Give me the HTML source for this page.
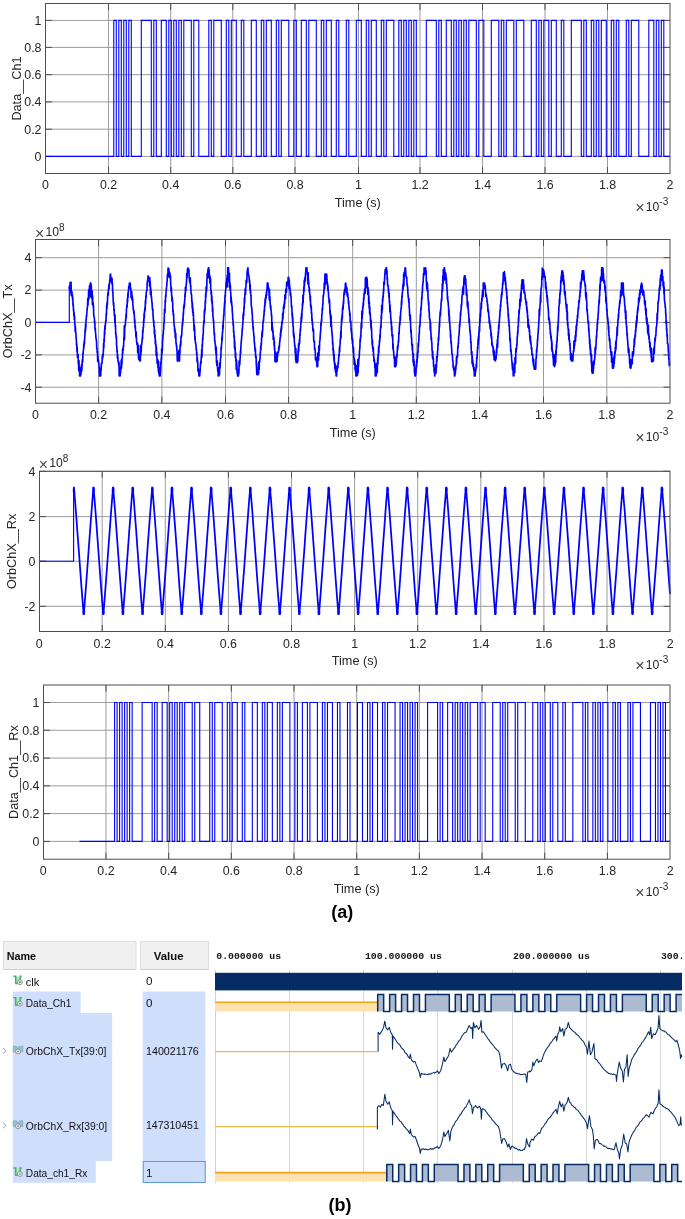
<!DOCTYPE html>
<html><head><meta charset="utf-8"><title>Figure</title>
<style>html,body{margin:0;padding:0;background:#fff}svg{display:block}</style>
</head><body>
<svg width="685" height="1219" viewBox="0 0 685 1219">
<rect width="685" height="1219" fill="#fff"/>
<path d="M108.5 3.5V173.5M170.7 3.5V173.5M232.8 3.5V173.5M295 3.5V173.5M358.5 3.5V173.5M420 3.5V173.5M482.5 3.5V173.5M545 3.5V173.5M607.5 3.5V173.5M45.5 20.4H670M45.5 47.4H670M45.5 74.7H670M45.5 101.9H670M45.5 129.2H670M45.5 156.4H670" stroke="#9c9c9c" stroke-width="1" fill="none"/>
<path d="M108.5 173.5v-6.5M108.5 3.5v6.5M170.7 173.5v-6.5M170.7 3.5v6.5M232.8 173.5v-6.5M232.8 3.5v6.5M295 173.5v-6.5M295 3.5v6.5M358.5 173.5v-6.5M358.5 3.5v6.5M420 173.5v-6.5M420 3.5v6.5M482.5 173.5v-6.5M482.5 3.5v6.5M545 173.5v-6.5M545 3.5v6.5M607.5 173.5v-6.5M607.5 3.5v6.5M45.5 20.4h6.5M670 20.4h-6.5M45.5 47.4h6.5M670 47.4h-6.5M45.5 74.7h6.5M670 74.7h-6.5M45.5 101.9h6.5M670 101.9h-6.5M45.5 129.2h6.5M670 129.2h-6.5M45.5 156.4h6.5M670 156.4h-6.5" stroke="#4f4f4f" stroke-width="1" fill="none"/>
<g font-family='"Liberation Sans", Arial, sans-serif' font-size="12.4" fill="#262626">
<text x="45.5" y="189.3" text-anchor="middle">0</text>
<text x="108.5" y="189.3" text-anchor="middle">0.2</text>
<text x="170.7" y="189.3" text-anchor="middle">0.4</text>
<text x="232.8" y="189.3" text-anchor="middle">0.6</text>
<text x="295" y="189.3" text-anchor="middle">0.8</text>
<text x="358.5" y="189.3" text-anchor="middle">1</text>
<text x="420" y="189.3" text-anchor="middle">1.2</text>
<text x="482.5" y="189.3" text-anchor="middle">1.4</text>
<text x="545" y="189.3" text-anchor="middle">1.6</text>
<text x="607.5" y="189.3" text-anchor="middle">1.8</text>
<text x="670" y="189.3" text-anchor="middle">2</text>
<text x="41.5" y="24.7" text-anchor="end">1</text>
<text x="41.5" y="51.7" text-anchor="end">0.8</text>
<text x="41.5" y="79" text-anchor="end">0.6</text>
<text x="41.5" y="106.2" text-anchor="end">0.4</text>
<text x="41.5" y="133.5" text-anchor="end">0.2</text>
<text x="41.5" y="160.7" text-anchor="end">0</text>
</g>
<g font-family='"Liberation Sans", Arial, sans-serif' font-size="12.7" fill="#262626">
<text x="357.75" y="207" text-anchor="middle">Time (s)</text>
<text transform="translate(20.6 88.5) rotate(-90)" text-anchor="middle">Data__Ch1</text>
</g>
<path d="M45.5 156.4H113.8V20.4H116.3V156.4H118.8V20.4H121.3V156.4H123.8V20.4H126.3V156.4H128.8V20.4H131.3V156.4H141.3V20.4H151.3V156.4H153.8V20.4H156.3V156.4H161.3V20.4H166.3V156.4H168.8V20.4H171.3V156.4H173.8V20.4H176.3V156.4H178.8V20.4H181.3V156.4H183.8V20.4H191.3V156.4H193.8V20.4H198.8V156.4H208.8V20.4H211.3V156.4H213.8V20.4H221.3V156.4H226.3V20.4H228.8V156.4H231.3V20.4H236.3V156.4H241.3V20.4H243.8V156.4H251.3V20.4H256.3V156.4H261.3V20.4H263.8V156.4H266.3V20.4H271.3V156.4H276.3V20.4H278.8V156.4H281.3V20.4H288.8V156.4H293.8V20.4H296.3V156.4H301.3V20.4H306.3V156.4H308.8V20.4H316.3V156.4H321.3V20.4H323.8V156.4H326.3V20.4H331.3V156.4H336.3V20.4H338.8V156.4H346.3V20.4H348.8V156.4H356.3V20.4H361.3V156.4H366.3V20.4H368.8V156.4H371.3V20.4H376.3V156.4H381.3V20.4H383.8V156.4H386.3V20.4H393.8V156.4H398.8V20.4H401.3V156.4H403.8V20.4H406.3V156.4H408.8V20.4H411.3V156.4H413.8V20.4H416.3V156.4H426.3V20.4H436.3V156.4H438.8V20.4H441.3V156.4H446.3V20.4H451.3V156.4H453.8V20.4H456.3V156.4H458.8V20.4H461.3V156.4H463.8V20.4H466.3V156.4H468.8V20.4H476.3V156.4H478.8V20.4H483.8V156.4H491.3V20.4H498.8V156.4H501.3V20.4H503.8V156.4H506.3V20.4H513.8V156.4H516.3V20.4H523.8V156.4H531.3V20.4H536.3V156.4H538.8V20.4H541.3V156.4H543.8V20.4H548.8V156.4H551.3V20.4H556.3V156.4H561.3V20.4H563.8V156.4H571.3V20.4H581.3V156.4H583.8V20.4H586.3V156.4H591.3V20.4H593.8V156.4H596.3V20.4H598.8V156.4H601.3V20.4H606.3V156.4H611.3V20.4H613.8V156.4H616.3V20.4H618.8V156.4H626.3V20.4H628.8V156.4H631.3V20.4H638.8V156.4H648.8V20.4H653.8V156.4H656.3V20.4H658.8V156.4H661.3V20.4H663.8V156.4H670" stroke="#0000ff" stroke-width="1.1" fill="none" stroke-linejoin="miter"/>
<rect x="45.5" y="3.5" width="624.5" height="170" fill="none" stroke="#4f4f4f" stroke-width="1"/>
<text x="635.2" y="210.5" font-family='"Liberation Sans", Arial, sans-serif' font-size="12.2" fill="#262626"><tspan font-size="16" dy="2.3" fill="#4a4a4a">×</tspan><tspan dx="1.2" dy="-2.3">10</tspan><tspan dy="-5.8" font-size="10">-3</tspan></text>
<path d="M98.6 239.5V403.2M161.9 239.5V403.2M225.5 239.5V403.2M288.6 239.5V403.2M352.7 239.5V403.2M416.3 239.5V403.2M479.5 239.5V403.2M543.5 239.5V403.2M606.8 239.5V403.2M35.5 257.7H670M35.5 290.1H670M35.5 322.4H670M35.5 354.9H670M35.5 387.2H670" stroke="#9c9c9c" stroke-width="1" fill="none"/>
<path d="M98.6 403.2v-6.5M98.6 239.5v6.5M161.9 403.2v-6.5M161.9 239.5v6.5M225.5 403.2v-6.5M225.5 239.5v6.5M288.6 403.2v-6.5M288.6 239.5v6.5M352.7 403.2v-6.5M352.7 239.5v6.5M416.3 403.2v-6.5M416.3 239.5v6.5M479.5 403.2v-6.5M479.5 239.5v6.5M543.5 403.2v-6.5M543.5 239.5v6.5M606.8 403.2v-6.5M606.8 239.5v6.5M35.5 257.7h6.5M670 257.7h-6.5M35.5 290.1h6.5M670 290.1h-6.5M35.5 322.4h6.5M670 322.4h-6.5M35.5 354.9h6.5M670 354.9h-6.5M35.5 387.2h6.5M670 387.2h-6.5" stroke="#4f4f4f" stroke-width="1" fill="none"/>
<g font-family='"Liberation Sans", Arial, sans-serif' font-size="12.4" fill="#262626">
<text x="35.5" y="419" text-anchor="middle">0</text>
<text x="98.6" y="419" text-anchor="middle">0.2</text>
<text x="161.9" y="419" text-anchor="middle">0.4</text>
<text x="225.5" y="419" text-anchor="middle">0.6</text>
<text x="288.6" y="419" text-anchor="middle">0.8</text>
<text x="352.7" y="419" text-anchor="middle">1</text>
<text x="416.3" y="419" text-anchor="middle">1.2</text>
<text x="479.5" y="419" text-anchor="middle">1.4</text>
<text x="543.5" y="419" text-anchor="middle">1.6</text>
<text x="606.8" y="419" text-anchor="middle">1.8</text>
<text x="670" y="419" text-anchor="middle">2</text>
<text x="31.5" y="262" text-anchor="end">4</text>
<text x="31.5" y="294.4" text-anchor="end">2</text>
<text x="31.5" y="326.7" text-anchor="end">0</text>
<text x="31.5" y="359.2" text-anchor="end">-2</text>
<text x="31.5" y="391.5" text-anchor="end">-4</text>
</g>
<g font-family='"Liberation Sans", Arial, sans-serif' font-size="12.7" fill="#262626">
<text x="352.75" y="436.5" text-anchor="middle">Time (s)</text>
<text transform="translate(12.3 321.35) rotate(-90)" text-anchor="middle">OrbChX__Tx</text>
</g>
<path d="M35.5 322.4H69.3V285.14" stroke="#0000ff" stroke-width="1.15" fill="none"/>
<path d="M69.3 286.76L69.5 288.95L69.72 286.27L69.94 289.09L70.16 282.22L70.38 282.22L70.6 282.22L70.82 293.01L71.04 282.35L71.26 295.5L71.48 293.05L71.7 292.86L71.92 291.65L72.14 296.55L72.36 294.46L72.58 300.08L72.8 297.14L73.02 306.01L73.24 303.91L73.46 310.61L73.68 309.82L73.9 315.82L74.12 312.74L74.34 319.37L74.56 316.11L74.78 324.59L75 324.26L75.22 331.63L75.44 326.93L75.66 332.45L75.88 332.66L76.1 338.68L76.32 339.1L76.54 345.99L76.76 343.88L76.98 351.61L77.2 347.39L77.42 357.12L77.64 356.68L77.86 355.89L78.08 354.61L78.3 363.9L78.52 360.42L78.74 370.57L78.96 360.62L79.18 371.52L79.4 365.99L79.62 375.86L79.84 371.87L80.06 375.86L80.28 371.13L80.5 375.86L80.72 372.13L80.94 374.62L81.16 367.23L81.38 371.97L81.6 364.5L81.82 370.44L82.04 365.65L82.26 361.05L82.48 359.43L82.7 362.1L82.92 352.99L83.14 354.12L83.36 350.03L83.58 349.76L83.8 343.96L84.02 347.09L84.24 340.67L84.46 344.16L84.68 338.04L84.9 335.35L85.12 329.06L85.34 331.82L85.56 324.3L85.78 328.62L86 319.65L86.22 319.97L86.44 315.36L86.66 316.29L86.88 311.36L87.1 310.47L87.32 307.02L87.54 306.61L87.76 298.62L87.98 305.28L88.2 299.13L88.42 298.48L88.64 290.39L88.86 299.17L89.08 289.13L89.3 293.52L89.52 285.83L89.74 286.77L89.96 288.44L90.18 284.71L90.4 283.03L90.62 296.88L90.84 283.03L91.06 285.96L91.28 285.34L91.5 293.07L91.72 293.89L91.94 298.75L92.16 291.01L92.38 304.59L92.6 295.8L92.82 303.85L93.04 302.17L93.26 307.13L93.48 305.06L93.7 314.89L93.92 315.81L94.14 317.13L94.36 317.85L94.58 323.34L94.8 321.18L95.02 329.68L95.24 327.97L95.46 332.68L95.68 333.24L95.9 337.67L96.12 338.46L96.34 339.75L96.56 342.9L96.78 348.7L97 348.23L97.22 353.11L97.44 351.48L97.66 361.17L97.88 355.87L98.1 361.96L98.32 359.65L98.54 360.97L98.76 363L98.98 365.8L99.2 367.97L99.42 375.86L99.64 370.55L99.86 375.86L100.08 373.81L100.3 374.99L100.52 373.03L100.74 375.86L100.96 367.07L101.18 370.52L101.4 363.24L101.62 364.19L101.84 363.27L102.06 362.26L102.28 356.21L102.5 358.92L102.72 354.48L102.94 356.91L103.16 354.35L103.38 351.13L103.6 343.83L103.82 348.08L104.04 338.75L104.26 341.73L104.48 330.56L104.7 335.02L104.92 325.91L105.14 329.33L105.36 324.05L105.58 323.46L105.8 319.97L106.02 321.13L106.24 313.28L106.46 314.63L106.68 305.03L106.9 309.05L107.12 302.34L107.34 304.94L107.56 298.51L107.78 293.79L108 292.74L108.22 295.26L108.44 289.26L108.66 288.98L108.88 285.18L109.1 289.02L109.32 283.61L109.54 284.45L109.76 280.03L109.98 279.65L110.2 274.82L110.42 280.08L110.64 274.12L110.86 281.1L111.08 279.76L111.3 278.74L111.52 279.8L111.74 283.24L111.96 278L112.18 282.23L112.4 283.32L112.62 290.9L112.84 291.46L113.06 296.41L113.28 301.9L113.5 305.51L113.72 302.73L113.94 311.02L114.16 309.24L114.38 315.77L114.6 314.77L114.82 322.7L115.04 314.71L115.26 326.55L115.48 325.36L115.7 334.23L115.92 333.36L116.14 337.94L116.36 336.06L116.58 345.31L116.8 347.11L117.02 351.81L117.24 350.58L117.46 358.42L117.68 355.15L117.9 358.1L118.12 361.85L118.34 361.83L118.56 363.53L118.78 365.73L119 362.33L119.22 375.86L119.44 373.51L119.66 370.39L119.88 372.89L120.1 375.86L120.32 371.58L120.54 373.04L120.76 366.47L120.98 368.66L121.2 360.21L121.42 368.6L121.64 359.02L121.86 365L122.08 358.75L122.3 358.71L122.52 349.68L122.74 353.67L122.96 348.05L123.18 350.48L123.4 345.53L123.62 346.49L123.84 338.12L124.06 338.61L124.28 326.12L124.5 339.58L124.72 328.62L124.94 326.85L125.16 325.05L125.38 324.73L125.6 319.48L125.82 320.55L126.04 314.29L126.26 318.02L126.48 308.56L126.7 307.82L126.92 304.82L127.14 307.21L127.36 298.76L127.58 302.34L127.8 293.86L128.02 297.48L128.24 291.53L128.46 291.57L128.68 287.36L128.9 286.27L129.12 287.9L129.34 283.39L129.56 283.03L129.78 283.03L130 283.12L130.22 283.03L130.44 287.98L130.66 289.6L130.88 288.61L131.1 297.7L131.32 291.7L131.54 295.84L131.76 291.54L131.98 300.02L132.2 295.83L132.42 300.42L132.64 298.6L132.86 305.3L133.08 306.02L133.3 309.96L133.52 309.81L133.74 313.3L133.96 310.7L134.18 313.42L134.4 317.55L134.62 322.38L134.84 319.81L135.06 328.2L135.28 325.84L135.5 330.51L135.72 332.26L135.94 337.04L136.16 332.1L136.38 337.84L136.6 341.49L136.82 343.1L137.04 344.56L137.26 343.12L137.48 342.84L137.7 352.82L137.92 347.72L138.14 349.79L138.36 345.37L138.58 358.23L138.8 359.6L139.02 359.08L139.24 356.55L139.46 356.14L139.68 357.18L139.9 360.96L140.12 356.76L140.34 360.96L140.56 346.18L140.78 355.4L141 349.92L141.22 352.24L141.44 343.97L141.66 344.83L141.88 342.26L142.1 341.28L142.32 337.05L142.54 338.99L142.76 330.14L142.98 332.58L143.2 327.29L143.42 328.06L143.64 319.92L143.86 322.65L144.08 313.49L144.3 318.38L144.52 310.97L144.74 311.62L144.96 307.38L145.18 310.2L145.4 300.62L145.62 304.15L145.84 296.21L146.06 297.9L146.28 292.15L146.5 291.54L146.72 290.55L146.94 290.72L147.16 282.71L147.38 282.2L147.6 279.79L147.82 280.36L148.04 275.84L148.26 276.86L148.48 277.81L148.7 278.34L148.92 278.84L149.14 281.74L149.36 280.61L149.58 286.13L149.8 277.49L150.02 287.07L150.24 281.5L150.46 294.61L150.68 287.73L150.9 291.92L151.12 291.55L151.34 297.98L151.56 296.87L151.78 301.61L152 301.78L152.22 306.09L152.44 309.25L152.66 310.25L152.88 309.16L153.1 316.16L153.32 318.69L153.54 322.12L153.76 320.54L153.98 327.24L154.2 326.35L154.42 334.45L154.64 329.96L154.86 337.63L155.08 334.99L155.3 343.71L155.52 340.17L155.74 346.18L155.96 344.72L156.18 355.41L156.4 347.27L156.62 354.39L156.84 352.41L157.06 362.99L157.28 358.75L157.5 364.19L157.72 359.83L157.94 367.47L158.16 362.19L158.38 371.79L158.6 361.66L158.82 373.51L159.04 368.45L159.26 375.86L159.48 371.09L159.7 367.84L159.92 375.86L160.14 375.86L160.36 370.14L160.58 370.39L160.8 362.64L161.02 364.23L161.24 357.99L161.46 359.45L161.68 348.72L161.9 354.15L162.12 350.91L162.34 349.27L162.56 340.11L162.78 339.94L163 334.38L163.22 334.79L163.44 330.42L163.66 329.78L163.88 322.98L164.1 323.12L164.32 316.54L164.54 309.13L164.76 309.74L164.98 312.44L165.2 300.22L165.42 302.6L165.64 295.74L165.86 297.02L166.08 291.4L166.3 290.81L166.52 287.03L166.74 286.41L166.96 281.51L167.18 281.05L167.4 274.5L167.62 275.83L167.84 277.04L168.06 267.97L168.28 267.97L168.5 271.34L168.72 268.77L168.94 269.18L169.16 273.23L169.38 277.22L169.6 274.64L169.82 272.74L170.04 275.26L170.26 278.85L170.48 275.89L170.7 283.57L170.92 287.14L171.14 291.55L171.36 287.57L171.58 294.85L171.8 295.99L172.02 301.16L172.24 297.65L172.46 300.57L172.68 303.48L172.9 312L173.12 310.51L173.34 315.56L173.56 313.48L173.78 319.7L174 324.11L174.22 325.62L174.44 326.56L174.66 331.82L174.88 328.94L175.1 331.9L175.32 337.93L175.54 338.16L175.76 333.41L175.98 343.24L176.2 343.05L176.42 346.47L176.64 345.51L176.86 350.5L177.08 351.31L177.3 360.96L177.52 353.32L177.74 360.96L177.96 356.18L178.18 360.96L178.4 355.54L178.62 355.08L178.84 350.44L179.06 360.96L179.28 353.85L179.5 360.96L179.72 351.18L179.94 353.84L180.16 344.79L180.38 346.96L180.6 341.71L180.82 344.89L181.04 336.1L181.26 337.14L181.48 336.39L181.7 335.21L181.92 330L182.14 327.55L182.36 323.27L182.58 325.24L182.8 318.91L183.02 320.91L183.24 312.99L183.46 314.54L183.68 306.7L183.9 308.98L184.12 304L184.34 306.91L184.56 300.92L184.78 300.04L185 293.49L185.22 296.66L185.44 287.1L185.66 290.88L185.88 290.81L186.1 286.43L186.32 283.58L186.54 281.54L186.76 273.51L186.98 278.28L187.2 275.03L187.42 269.57L187.64 268.32L187.86 267.97L188.08 267.97L188.3 270.59L188.52 271.44L188.74 272.84L188.96 269.58L189.18 277.87L189.4 278.84L189.62 281.9L189.84 277.95L190.06 283.13L190.28 277.74L190.5 286.52L190.72 285.22L190.94 291.23L191.16 293.53L191.38 294.56L191.6 295.08L191.82 302.05L192.04 300.73L192.26 308.25L192.48 303.57L192.7 312.79L192.92 308.44L193.14 315.41L193.36 312.69L193.58 321.04L193.8 319.78L194.02 330.82L194.24 324.76L194.46 327.51L194.68 330.61L194.9 339.4L195.12 336.45L195.34 342.8L195.56 342.53L195.78 343.76L196 345.17L196.22 349.92L196.44 349.19L196.66 354.67L196.88 352.6L197.1 361.92L197.32 357.78L197.54 361.28L197.76 361.77L197.98 371.2L198.2 368.49L198.42 371.82L198.64 370.41L198.86 375.95L199.08 372.16L199.3 375.39L199.52 376.02L199.74 376.02L199.96 369.2L200.18 371.63L200.4 363.91L200.62 363.19L200.84 361.33L201.06 363.4L201.28 356.44L201.5 357.02L201.72 349.48L201.94 357.28L202.16 344.72L202.38 346.36L202.6 338.53L202.82 340.06L203.04 334.63L203.26 334.33L203.48 325.29L203.7 325.41L203.92 320.63L204.14 322.97L204.36 310.2L204.58 313.66L204.8 308.96L205.02 310.83L205.24 301.05L205.46 303.67L205.68 293.59L205.9 297.05L206.12 286.94L206.34 292.17L206.56 290.53L206.78 287.18L207 278.45L207.22 273.24L207.44 278.12L207.66 276.82L207.88 269.92L208.1 274.52L208.32 267.81L208.54 271.98L208.76 267.81L208.98 277.39L209.2 270.37L209.42 278.45L209.64 275.66L209.86 282.92L210.08 276.34L210.3 283.28L210.52 278.59L210.74 289.59L210.96 290.48L211.18 294.77L211.4 291.52L211.62 301.02L211.84 295.97L212.06 303.99L212.28 301.34L212.5 311.61L212.72 307.54L212.94 317.03L213.16 316.77L213.38 321.14L213.6 320.72L213.82 326.84L214.04 330.05L214.26 335.13L214.48 333.37L214.7 341.14L214.92 340.51L215.14 343.97L215.36 344.22L215.58 350.38L215.8 350.08L216.02 354.2L216.24 347.12L216.46 362.67L216.68 361.33L216.9 365.73L217.12 360.55L217.34 361.71L217.56 367.2L217.78 371.48L218 370.84L218.22 376.02L218.44 376.02L218.66 376.02L218.88 376.02L219.1 367.82L219.32 367.75L219.54 374.66L219.76 362.78L219.98 368.28L220.2 365.65L220.42 359.49L220.64 358.01L220.86 356.8L221.08 347.41L221.3 349.67L221.52 344.35L221.74 343.02L221.96 336.94L222.18 340.24L222.4 332.21L222.62 332.62L222.84 325.22L223.06 329.09L223.28 320.91L223.5 320.09L223.72 314.3L223.94 315.87L224.16 308.63L224.38 306.46L224.6 302.31L224.82 303.25L225.04 295.35L225.26 296.91L225.48 290.71L225.7 290.12L225.92 286.87L226.14 283.28L226.36 282.12L226.58 285.14L226.8 278.36L227.02 278.75L227.24 275.3L227.46 286.96L227.68 267.81L227.9 279.67L228.12 267.81L228.34 276.99L228.56 267.81L228.78 274.96L229 273.98L229.22 282.23L229.44 272.99L229.66 287.52L229.88 282.34L230.1 290.27L230.32 285.25L230.54 291.91L230.76 293.04L230.98 302.53L231.2 297L231.42 304.15L231.64 301.25L231.86 305.74L232.08 306.54L232.3 312.41L232.52 313.34L232.74 319.39L232.96 319.47L233.18 325.67L233.4 324.33L233.62 332.58L233.84 331.79L234.06 337.77L234.28 335.77L234.5 347.61L234.72 341.17L234.94 350.03L235.16 347.22L235.38 357.56L235.6 352.55L235.82 360.57L236.04 358.69L236.26 369.4L236.48 360.05L236.7 364.48L236.92 366.78L237.14 373.5L237.36 370.43L237.58 376.02L237.8 375.55L238.02 376.02L238.24 369.76L238.46 376.02L238.68 369.65L238.9 373.6L239.12 361.07L239.34 366.3L239.56 362.45L239.78 364.41L240 359.78L240.22 356.73L240.44 350.91L240.66 353.64L240.88 346.95L241.1 344.06L241.32 341.13L241.54 339.07L241.76 335.41L241.98 334.89L242.2 328.94L242.42 329.17L242.64 324.41L242.86 324.06L243.08 314.41L243.3 319.28L243.52 312.37L243.74 315.58L243.96 306.8L244.18 308.94L244.4 297.92L244.62 303.22L244.84 296L245.06 293.75L245.28 288.66L245.5 294.56L245.72 287.86L245.94 287.04L246.16 280.17L246.38 283.43L246.6 280.94L246.82 282.27L247.04 273.43L247.26 271.64L247.48 269.4L247.7 273.1L247.92 267.81L248.14 271.41L248.36 273.51L248.58 275.24L248.8 275.57L249.02 276.63L249.24 279.37L249.46 282.64L249.68 280.16L249.9 289.46L250.12 284.25L250.34 292.19L250.56 290.74L250.78 295.81L251 295.05L251.22 304.26L251.44 306.76L251.66 307.38L251.88 309.1L252.1 313.43L252.32 314.09L252.54 322.06L252.76 320.56L252.98 328.81L253.2 326.56L253.42 331.06L253.64 332.4L253.86 336.1L254.08 336.1L254.3 342.42L254.52 342.75L254.74 346.6L254.96 348.42L255.18 351.54L255.4 348.36L255.62 357.35L255.84 356.89L256.06 356.08L256.28 364.39L256.5 367.21L256.72 372.45L256.94 374.73L257.16 371.76L257.38 374.25L257.6 369.95L257.82 374.73L258.04 374.71L258.26 369.68L258.48 362.86L258.7 373.65L258.92 361.4L259.14 369.49L259.36 362.38L259.58 362.2L259.8 359.68L260.02 359.3L260.24 352.84L260.46 353.04L260.68 346.45L260.9 350.03L261.12 343.51L261.34 345.19L261.56 338.26L261.78 338.12L262 332.19L262.22 336.78L262.44 330.78L262.66 331.33L262.88 323.9L263.1 322.93L263.32 319.93L263.54 320.9L263.76 315.29L263.98 316.18L264.2 310.22L264.42 311.68L264.64 305.49L264.86 306.51L265.08 299.4L265.3 303.91L265.52 297.54L265.74 299.34L265.96 294.76L266.18 297.65L266.4 291.76L266.62 295.49L266.84 289.74L267.06 288.72L267.28 283.03L267.5 286.7L267.72 283.03L267.94 283.03L268.16 285.89L268.38 290.55L268.6 288.9L268.82 288.02L269.04 289.21L269.26 299.45L269.48 289.56L269.7 300.68L269.92 296.63L270.14 303.13L270.36 305.66L270.58 308.47L270.8 305.93L271.02 310.1L271.24 310.98L271.46 315.96L271.68 315.21L271.9 330.3L272.12 322.5L272.34 328.68L272.56 327.44L272.78 332.89L273 330.45L273.22 339.36L273.44 335.22L273.66 339.23L273.88 337.52L274.1 345.8L274.32 341.29L274.54 349.86L274.76 348.45L274.98 361.77L275.2 354.01L275.42 357.16L275.64 352.11L275.86 357.82L276.08 361.77L276.3 358.85L276.52 357.52L276.74 361.77L276.96 353.6L277.18 361.05L277.4 355.13L277.62 356.14L277.84 352.39L278.06 352.03L278.28 351.25L278.5 352.12L278.72 347.58L278.94 350.3L279.16 345.51L279.38 347.5L279.6 341.93L279.82 342.1L280.04 338.14L280.26 338.45L280.48 332.91L280.7 336.58L280.92 329.05L281.14 332.19L281.36 326.45L281.58 329.27L281.8 322.18L282.02 324.16L282.24 321.13L282.46 320.73L282.68 313.44L282.9 318.86L283.12 312.9L283.34 313.52L283.56 306.35L283.78 308.75L284 304.29L284.22 308.08L284.44 301.4L284.66 303.67L284.88 294.81L285.1 298.37L285.32 295.27L285.54 298.83L285.76 289.79L285.98 290.29L286.2 288.7L286.42 292.26L286.64 282.37L286.86 286.41L287.08 285.42L287.3 285.05L287.52 283.61L287.74 281.63L287.96 284.02L288.18 277.36L288.4 277.36L288.62 277.36L288.84 281.27L289.06 288.43L289.28 279.84L289.5 289.57L289.72 285.77L289.94 288.94L290.16 291.31L290.38 295.55L290.6 292.47L290.82 296.15L291.04 296.37L291.26 302.71L291.48 307.4L291.7 305.91L291.92 309.42L292.14 316.8L292.36 313L292.58 321.88L292.8 317.33L293.02 326.75L293.24 326.21L293.46 335.22L293.68 331.76L293.9 337.63L294.12 335.27L294.34 341.38L294.56 343.67L294.78 346.51L295 345.41L295.22 353.3L295.44 349.27L295.66 360.48L295.88 348.54L296.1 362.58L296.32 360.78L296.54 360.36L296.76 362.01L296.98 359.07L297.2 354.63L297.42 362.58L297.64 354.73L297.86 361.18L298.08 350.69L298.3 353.39L298.52 343.93L298.74 351.1L298.96 344.1L299.18 344.85L299.4 339.63L299.62 343.5L299.84 334.57L300.06 335.39L300.28 329.18L300.5 330.96L300.72 325.59L300.94 322.95L301.16 317.21L301.38 321.72L301.6 313.39L301.82 318.33L302.04 310.46L302.26 309.89L302.48 302.98L302.7 306.03L302.92 295.36L303.14 302.92L303.36 295.88L303.58 294.87L303.8 287.02L304.02 291.72L304.24 280.6L304.46 286.02L304.68 278.77L304.9 280.13L305.12 276.73L305.34 281.13L305.56 273.52L305.78 271.08L306 267.81L306.22 271.39L306.44 269.08L306.66 267.81L306.88 267.81L307.1 272.2L307.32 272.02L307.54 275.38L307.76 275.27L307.98 284.07L308.2 272.77L308.42 284.55L308.64 281L308.86 287.28L309.08 286.48L309.3 292.03L309.52 288.54L309.74 295.09L309.96 294.71L310.18 300.77L310.4 296.42L310.62 306.54L310.84 304.54L311.06 309.18L311.28 306.57L311.5 314.16L311.72 313.14L311.94 320.97L312.16 319.01L312.38 324.36L312.6 323.01L312.82 328.96L313.04 331.14L313.26 328.85L313.48 329.62L313.7 340.1L313.92 340.65L314.14 342.74L314.36 341.27L314.58 349.41L314.8 347.98L315.02 349.23L315.24 349.87L315.46 359.45L315.68 356.41L315.9 357.34L316.12 360.92L316.34 360.08L316.56 358.09L316.78 363.73L317 366.63L317.22 366.63L317.44 362.32L317.66 366.63L317.88 352.72L318.1 356.43L318.32 354.71L318.54 360.17L318.76 345.91L318.98 355.62L319.2 346.17L319.42 350.49L319.64 341.43L319.86 340.96L320.08 338.51L320.3 334.58L320.52 331.67L320.74 330.61L320.96 323.08L321.18 325.53L321.4 319.91L321.62 321.31L321.84 314.7L322.06 313.8L322.28 308.27L322.5 309.95L322.72 303.91L322.94 304.21L323.16 295.45L323.38 296.7L323.6 293.95L323.82 293.31L324.04 290.17L324.26 282.92L324.48 283.77L324.7 288.45L324.92 274.12L325.14 284.59L325.36 274.12L325.58 279.12L325.8 275.25L326.02 278.17L326.24 274.64L326.46 283.24L326.68 274.12L326.9 278.12L327.12 281.59L327.34 285.13L327.56 283.01L327.78 289.69L328 286.03L328.22 292.22L328.44 292.1L328.66 297.77L328.88 297.62L329.1 303.02L329.32 299.51L329.54 300.22L329.76 306.85L329.98 314.08L330.2 310.97L330.42 318.08L330.64 316.61L330.86 326.5L331.08 315.37L331.3 324.21L331.52 325.64L331.74 331.42L331.96 331.56L332.18 335.18L332.4 337.38L332.62 344.14L332.84 342.58L333.06 350.66L333.28 348.33L333.5 355.72L333.72 351.29L333.94 360.47L334.16 355.03L334.38 362.93L334.6 362.76L334.82 368.62L335.04 363.22L335.26 367.73L335.48 370.6L335.7 372.34L335.92 365.47L336.14 376.02L336.36 375.44L336.58 376.02L336.8 367.67L337.02 371.57L337.24 368.67L337.46 368.28L337.68 368.23L337.9 367.32L338.12 362.66L338.34 364.02L338.56 359.98L338.78 356.72L339 354.46L339.22 355.81L339.44 347.47L339.66 351.64L339.88 345.18L340.1 344.39L340.32 338.85L340.54 338.99L340.76 331.66L340.98 338.2L341.2 326.1L341.42 325.42L341.64 318.52L341.86 321.96L342.08 314.93L342.3 318.92L342.52 308.21L342.74 310.59L342.96 305.42L343.18 308.69L343.4 301.09L343.62 303.62L343.84 294.77L344.06 293.15L344.28 291.18L344.5 294.58L344.72 289.29L344.94 290.03L345.16 289.09L345.38 283.43L345.6 283.03L345.82 283.22L346.04 286.59L346.26 287.59L346.48 292.62L346.7 291.1L346.92 287.77L347.14 296.03L347.36 293.36L347.58 292.88L347.8 294.88L348.02 297.51L348.24 298.42L348.46 303.96L348.68 300.84L348.9 306.48L349.12 308.08L349.34 310.54L349.56 310.55L349.78 315.97L350 313.37L350.22 322.25L350.44 320.77L350.66 321.07L350.88 321.91L351.1 330.57L351.32 328.73L351.54 334.01L351.76 333.36L351.98 339.79L352.2 337.89L352.42 343.56L352.64 339.46L352.86 346.87L353.08 346.82L353.3 352.43L353.52 347.45L353.74 357.36L353.96 357.26L354.18 364.49L354.4 358.63L354.62 363.37L354.84 360.8L355.06 369.63L355.28 363.8L355.5 372.02L355.72 369.08L355.94 376.02L356.16 372.93L356.38 373.11L356.6 365.93L356.82 376.02L357.04 368.51L357.26 375.22L357.48 375.34L357.7 367.68L357.92 359.49L358.14 372.76L358.36 362.08L358.58 366.14L358.8 358.93L359.02 358.45L359.24 356.34L359.46 351.7L359.68 349.7L359.9 347.02L360.12 339.39L360.34 341.39L360.56 336.12L360.78 337.6L361 331.18L361.22 323.56L361.44 323.69L361.66 328.06L361.88 311.17L362.1 319.04L362.32 312.88L362.54 314.27L362.76 306.71L362.98 308.46L363.2 302.75L363.42 305.66L363.64 297.59L363.86 299.92L364.08 293.43L364.3 294.89L364.52 292.05L364.74 288.75L364.96 291.8L365.18 293.22L365.4 278.01L365.62 279.54L365.84 286.09L366.06 287.71L366.28 277.36L366.5 279.12L366.72 277.36L366.94 285.31L367.16 278.82L367.38 284.7L367.6 290.02L367.82 294.39L368.04 287.48L368.26 295.22L368.48 290.41L368.7 303.41L368.92 296.17L369.14 308.1L369.36 302.13L369.58 313.31L369.8 307.21L370.02 315.33L370.24 313.15L370.46 320.69L370.68 318.62L370.9 327.59L371.12 320.51L371.34 329.97L371.56 327.94L371.78 336.92L372 338.48L372.22 345.38L372.44 340.64L372.66 348.76L372.88 346.99L373.1 351.44L373.32 347.3L373.54 356.23L373.76 356.28L373.98 361.53L374.2 359.11L374.42 360.15L374.64 363.14L374.86 367.79L375.08 365.96L375.3 376.02L375.52 363.97L375.74 374.55L375.96 372.93L376.18 376.02L376.4 372.56L376.62 371.98L376.84 367.89L377.06 362.96L377.28 372.57L377.5 364.2L377.72 357.59L377.94 364.15L378.16 354.36L378.38 356.72L378.6 346.73L378.82 352.99L379.04 345.27L379.26 345.65L379.48 340.35L379.7 342.07L379.92 335L380.14 337.96L380.36 329.83L380.58 328.6L380.8 325.03L381.02 327.7L381.24 315.47L381.46 318.97L381.68 305.27L381.9 312.94L382.12 310.14L382.34 309.44L382.56 298.72L382.78 301.65L383 296L383.22 297.34L383.44 290.11L383.66 291.88L383.88 282.04L384.1 284.65L384.32 284.42L384.54 279.46L384.76 275.91L384.98 272.81L385.2 269.46L385.42 273.85L385.64 271.24L385.86 273.7L386.08 267.81L386.3 267.81L386.52 267.81L386.74 273.68L386.96 270.46L387.18 279.61L387.4 278.14L387.62 285.79L387.84 285.03L388.06 285.57L388.28 287.08L388.5 293.05L388.72 289.22L388.94 297.67L389.16 293.36L389.38 302.92L389.6 300.81L389.82 311.46L390.04 305.08L390.26 313.3L390.48 310.98L390.7 318.18L390.92 318.04L391.14 323.88L391.36 321.73L391.58 330.43L391.8 326.58L392.02 335.45L392.24 335.77L392.46 338.07L392.68 334.59L392.9 348.84L393.12 343.91L393.34 350.62L393.56 350.61L393.78 353.72L394 356.62L394.22 358.9L394.44 358.52L394.66 366.63L394.88 356.97L395.1 362.89L395.32 360.99L395.54 366.63L395.76 357.85L395.98 365.96L396.2 364.01L396.42 362.09L396.64 355.31L396.86 357.29L397.08 356.12L397.3 350.21L397.52 346.08L397.74 349.52L397.96 345.77L398.18 345.43L398.4 340.5L398.62 341.9L398.84 332.61L399.06 334.34L399.28 329.03L399.5 325.2L399.72 322.9L399.94 324.68L400.16 316.59L400.38 320.31L400.6 312.27L400.82 311.56L401.04 308.72L401.26 307.8L401.48 300.93L401.7 304.41L401.92 295.81L402.14 297.24L402.36 292.3L402.58 291.27L402.8 286L403.02 289.76L403.24 282.83L403.46 284.82L403.68 274.25L403.9 285.92L404.12 272.43L404.34 273.48L404.56 275.92L404.78 273.92L405 268.07L405.22 269.44L405.44 267.81L405.66 271.19L405.88 273.97L406.1 276.52L406.32 277.07L406.54 278.61L406.76 277L406.98 284.14L407.2 284.06L407.42 286.9L407.64 286.86L407.86 292.54L408.08 294.92L408.3 298.15L408.52 298.02L408.74 302.47L408.96 298.61L409.18 307.61L409.4 308.14L409.62 316.01L409.84 315.65L410.06 320.09L410.28 314.82L410.5 322.23L410.72 327.89L410.94 332.8L411.16 330.15L411.38 337.66L411.6 337.51L411.82 345.5L412.04 343.92L412.26 349.82L412.48 344.48L412.7 354.12L412.92 353.34L413.14 362.16L413.36 353.38L413.58 365.2L413.8 359.68L414.02 365.91L414.24 361.37L414.46 372.98L414.68 370L414.9 376.02L415.12 374.62L415.34 376.02L415.56 368.65L415.78 374.54L416 371.65L416.22 366.38L416.44 364.8L416.66 366.86L416.88 359.55L417.1 362.73L417.32 353.43L417.54 358.06L417.76 351.3L417.98 352.79L418.2 343.59L418.42 347.08L418.64 341.97L418.86 340.6L419.08 333.83L419.3 334.42L419.52 325.72L419.74 326.08L419.96 326.31L420.18 321.27L420.4 314.55L420.62 316.35L420.84 308.55L421.06 309.33L421.28 306.21L421.5 303.69L421.72 297.17L421.94 299.12L422.16 291.56L422.38 292.81L422.6 285.42L422.82 284.74L423.04 281.3L423.26 281.53L423.48 273.55L423.7 275.63L423.92 275.67L424.14 267.81L424.36 269.92L424.58 273.8L424.8 268.69L425.02 270.61L425.24 269.88L425.46 269.4L425.68 267.81L425.9 273.46L426.12 271.15L426.34 281.05L426.56 283.63L426.78 288.92L427 281.81L427.22 291.07L427.44 283.57L427.66 290.97L427.88 290.13L428.1 298.93L428.32 299.28L428.54 304.78L428.76 302.06L428.98 310.87L429.2 310.89L429.42 317.65L429.64 318.4L429.86 320.19L430.08 319.92L430.3 330.12L430.52 323L430.74 330.71L430.96 333.48L431.18 339.52L431.4 337.34L431.62 342.59L431.84 342.46L432.06 350.61L432.28 350.52L432.5 357.74L432.72 351.62L432.94 359.11L433.16 357.1L433.38 359.75L433.6 366.79L433.82 364.76L434.04 369.82L434.26 372.42L434.48 370.2L434.7 376.02L434.92 374.49L435.14 371.71L435.36 372.4L435.58 370.52L435.8 364.55L436.02 373.28L436.24 364.94L436.46 367.93L436.68 356.7L436.9 361.66L437.12 356.33L437.34 357.11L437.56 350.79L437.78 350.34L438 343.8L438.22 344.65L438.44 337.34L438.66 340.17L438.88 333.03L439.1 332.57L439.32 323.78L439.54 326.68L439.76 318.81L439.98 315.59L440.2 311.7L440.42 315.65L440.64 309.33L440.86 309.28L441.08 303.1L441.3 301.54L441.52 298.69L441.74 300.68L441.96 290.85L442.18 290.88L442.4 283.63L442.62 291.02L442.84 276.12L443.06 284.3L443.28 269.73L443.5 279.16L443.72 271.49L443.94 280.48L444.16 267.81L444.38 267.89L444.6 268.95L444.82 271.68L445.04 272.6L445.26 279.24L445.48 272.4L445.7 279.23L445.92 274.36L446.14 283.56L446.36 277.84L446.58 283.22L446.8 284.5L447.02 290.36L447.24 290.8L447.46 299.38L447.68 296.23L447.9 301.69L448.12 301.48L448.34 305.35L448.56 306.79L448.78 315.85L449 309.92L449.22 320.91L449.44 316.2L449.66 323.41L449.88 324.97L450.1 329.81L450.32 329.9L450.54 337.68L450.76 334.2L450.98 343.15L451.2 341.38L451.42 345.64L451.64 348.35L451.86 353.76L452.08 353.67L452.3 354.76L452.52 357.75L452.74 361.04L452.96 361.02L453.18 367.65L453.4 365.59L453.62 368.87L453.84 369.97L454.06 369.3L454.28 368.19L454.5 376.02L454.72 369.41L454.94 376.02L455.16 370.57L455.38 373.38L455.6 366.67L455.82 369.62L456.04 364.93L456.26 365.62L456.48 357.05L456.7 363.48L456.92 356.62L457.14 355.81L457.36 357.51L457.58 354.68L457.8 346.57L458.02 348.2L458.24 343.4L458.46 343.55L458.68 336.63L458.9 335.97L459.12 334.14L459.34 330.22L459.56 324.35L459.78 327.13L460 321.63L460.22 320.11L460.44 312.64L460.66 315.37L460.88 310.48L461.1 310.2L461.32 304.44L461.54 306.12L461.76 302.83L461.98 297.38L462.2 295.18L462.42 295.25L462.64 288.94L462.86 292.36L463.08 286.68L463.3 292.91L463.52 293.88L463.74 284.41L463.96 277.9L464.18 284.3L464.4 275.74L464.62 279.69L464.84 275.74L465.06 275.74L465.28 283.76L465.5 284L465.72 278.92L465.94 285.81L466.16 286.07L466.38 295.31L466.6 289.92L466.82 293.79L467.04 295.09L467.26 305.26L467.48 306.93L467.7 305.99L467.92 301.79L468.14 309.81L468.36 308.78L468.58 314.72L468.8 314.47L469.02 322.39L469.24 318.75L469.46 323.95L469.68 326.21L469.9 330.99L470.12 331.1L470.34 334.67L470.56 335.97L470.78 342.96L471 341.57L471.22 348.44L471.44 354.46L471.66 352.57L471.88 351.55L472.1 363.71L472.32 356.17L472.54 361.61L472.76 360.59L472.98 366.41L473.2 363.42L473.42 364.92L473.64 368.71L473.86 370.43L474.08 367.31L474.3 376.02L474.52 373.67L474.74 375.95L474.96 371.14L475.18 376.02L475.4 370.17L475.62 371.99L475.84 369.1L476.06 368.79L476.28 364.09L476.5 367.49L476.72 357.37L476.94 359.13L477.16 355.41L477.38 352.4L477.6 346.84L477.82 349.04L478.04 339.62L478.26 344.32L478.48 336.32L478.7 340.02L478.92 332.87L479.14 331.3L479.36 326.25L479.58 331.21L479.8 318.64L480.02 322.05L480.24 313.65L480.46 316.87L480.68 310.87L480.9 309.93L481.12 303.14L481.34 308.54L481.56 302.3L481.78 298.36L482 300.89L482.22 295.22L482.44 293.17L482.66 290.22L482.88 296.95L483.1 296.41L483.32 283.03L483.54 288.11L483.76 283.12L483.98 286.33L484.2 283.03L484.42 287.8L484.64 283.27L484.86 288.97L485.08 285.51L485.3 286.03L485.52 291.8L485.74 296.38L485.96 293.87L486.18 294.4L486.4 296.42L486.62 297.48L486.84 298.28L487.06 301.75L487.28 301.21L487.5 305.73L487.72 304.4L487.94 311.5L488.16 309.27L488.38 313.02L488.6 311.25L488.82 317.47L489.04 317.02L489.26 323.19L489.48 319.84L489.7 322.44L489.92 325.1L490.14 328.64L490.36 325.12L490.58 329.34L490.8 330.51L491.02 336.46L491.24 333.02L491.46 338.78L491.68 336.79L491.9 345.21L492.12 343.06L492.34 345.82L492.56 346.61L492.78 347.33L493 346.36L493.22 352.35L493.44 348.79L493.66 355.57L493.88 350.31L494.1 359.66L494.32 351.66L494.54 359.87L494.76 359.91L494.98 356.4L495.2 360.96L495.42 360.42L495.64 356.29L495.86 357.88L496.08 358.89L496.3 355.16L496.52 349.12L496.74 352.86L496.96 344.18L497.18 345.24L497.4 339.67L497.62 347.26L497.84 336.36L498.06 337.2L498.28 331.48L498.5 333.15L498.72 325.39L498.94 329.13L499.16 321.44L499.38 321.48L499.6 316.83L499.82 315.74L500.04 310.23L500.26 310.7L500.48 304.51L500.7 306.62L500.92 301.14L501.14 300.61L501.36 294.52L501.58 297.35L501.8 292.56L502.02 294.66L502.24 288.84L502.46 288.04L502.68 282.49L502.9 284.61L503.12 279.49L503.34 272.74L503.56 276.64L503.78 277.4L504 272.51L504.22 280.85L504.44 271.69L504.66 274.98L504.88 276.57L505.1 279.22L505.32 277.57L505.54 284.74L505.76 281.84L505.98 288.21L506.2 289.83L506.42 291.96L506.64 289.37L506.86 298.59L507.08 296.53L507.3 303.59L507.52 302.67L507.74 309.15L507.96 308.25L508.18 316.97L508.4 313.71L508.62 321.15L508.84 319.63L509.06 326.18L509.28 325.16L509.5 332.44L509.72 332.22L509.94 340.98L510.16 338.08L510.38 342.78L510.6 347.51L510.82 351.44L511.04 349.45L511.26 354.68L511.48 354.73L511.7 359.63L511.92 361.51L512.14 364.46L512.36 367.79L512.58 369.71L512.8 363.3L513.02 366.8L513.24 376.02L513.46 373.07L513.68 375.76L513.9 375.66L514.12 367.72L514.34 372.87L514.56 367.68L514.78 372.74L515 357.48L515.22 363.93L515.44 363.89L515.66 362.23L515.88 348.57L516.1 352.32L516.32 348.46L516.54 349.24L516.76 344.08L516.98 345.05L517.2 336.71L517.42 337.18L517.64 331.36L517.86 333.35L518.08 326.29L518.3 326.69L518.52 317.28L518.74 320.95L518.96 310.43L519.18 313.75L519.4 308.99L519.62 309.07L519.84 299.68L520.06 306.01L520.28 298.77L520.5 299.08L520.72 293.24L520.94 301.36L521.16 291.88L521.38 290.37L521.6 284.25L521.82 284.03L522.04 279.79L522.26 279.79L522.48 288.71L522.7 281.58L522.92 280.89L523.14 286.87L523.36 279.86L523.58 286.61L523.8 284.68L524.02 292.93L524.24 290.15L524.46 293.19L524.68 292.29L524.9 293.71L525.12 294.5L525.34 299.58L525.56 298.24L525.78 301.48L526 302.78L526.22 304.93L526.44 301.5L526.66 309.32L526.88 306.71L527.1 312.51L527.32 310.41L527.54 317.67L527.76 315.8L527.98 327.15L528.2 319.39L528.42 326.19L528.64 324.56L528.86 328.34L529.08 325.56L529.3 332.04L529.52 329.8L529.74 337.27L529.96 338.13L530.18 341.24L530.4 336.12L530.62 343.61L530.84 341.68L531.06 344.77L531.28 346.77L531.5 349.67L531.72 347.49L531.94 354.76L532.16 354.17L532.38 355.71L532.6 354.14L532.82 361.07L533.04 359.25L533.26 364.01L533.48 364.88L533.7 359.38L533.92 365.82L534.14 369.06L534.36 366.95L534.58 369.06L534.8 367.46L535.02 369.06L535.24 366.03L535.46 367.21L535.68 369.06L535.9 362.31L536.12 357.68L536.34 358.52L536.56 349.63L536.78 352.43L537 347.16L537.22 347.16L537.44 339.83L537.66 340.8L537.88 335.13L538.1 333.3L538.32 329.66L538.54 327.32L538.76 323.2L538.98 320.22L539.2 309.44L539.42 316.28L539.64 311.71L539.86 308.86L540.08 304.51L540.3 302.18L540.52 295.28L540.74 302.52L540.96 290.91L541.18 288.33L541.4 287.4L541.62 286.94L541.84 277.31L542.06 279.74L542.28 268.14L542.5 272.43L542.72 274.17L542.94 269.36L543.16 277.06L543.38 269.62L543.6 270.21L543.82 271.98L544.04 271.73L544.26 274.35L544.48 275.43L544.7 277.41L544.92 277.08L545.14 276.56L545.36 282.3L545.58 288.41L545.8 282.43L546.02 289.39L546.24 286.6L546.46 292.68L546.68 291.39L546.9 297.71L547.12 295.49L547.34 302.24L547.56 298.4L547.78 304.67L548 305.81L548.22 309.51L548.44 311.27L548.66 319.62L548.88 316.97L549.1 320.45L549.32 318.65L549.54 324.5L549.76 321.67L549.98 328.26L550.2 329.71L550.42 334.55L550.64 332.77L550.86 338.23L551.08 335.87L551.3 340.82L551.52 339.55L551.74 349.86L551.96 342.16L552.18 351.57L552.4 349.66L552.62 352.2L552.84 352.73L553.06 358.13L553.28 356.22L553.5 365.05L553.72 354.86L553.94 359.5L554.16 360.88L554.38 366.63L554.6 364.19L554.82 361.82L555.04 365.37L555.26 362.75L555.48 354.14L555.7 362.71L555.92 350.34L556.14 354.52L556.36 344.92L556.58 348.2L556.8 341.35L557.02 342.22L557.24 336.42L557.46 334.53L557.68 326.28L557.9 330.92L558.12 322.59L558.34 321.96L558.56 315.43L558.78 311L559 305.94L559.22 304.9L559.44 299.02L559.66 303.58L559.88 293.13L560.1 294.47L560.32 289.51L560.54 291.76L560.76 280.22L560.98 283.33L561.2 276.04L561.42 281.02L561.64 273.13L561.86 271.28L562.08 270.88L562.3 272.89L562.52 270.88L562.74 272.42L562.96 272.3L563.18 281.69L563.4 275.26L563.62 284.27L563.84 280.16L564.06 282.49L564.28 284.67L564.5 293.69L564.72 291.9L564.94 295.63L565.16 291.31L565.38 298.62L565.6 298.17L565.82 303.63L566.04 304.6L566.26 307.22L566.48 308.18L566.7 311.56L566.92 304.32L567.14 319.97L567.36 311.53L567.58 325.15L567.8 322.22L568.02 328.48L568.24 328.41L568.46 335.74L568.68 329.31L568.9 339.63L569.12 333.72L569.34 341.36L569.56 340.56L569.78 345.77L570 343.48L570.22 350.88L570.44 352.39L570.66 359.78L570.88 353.77L571.1 358.97L571.32 353.85L571.54 360.96L571.76 356.3L571.98 360.96L572.2 357.17L572.42 360.96L572.64 356.55L572.86 360.96L573.08 355.64L573.3 352.52L573.52 350.44L573.74 351.76L573.96 341.06L574.18 348.66L574.4 342.57L574.62 345.83L574.84 340.66L575.06 340.35L575.28 335.91L575.5 341.24L575.72 331.35L575.94 336.98L576.16 325.99L576.38 330.69L576.6 324.2L576.82 325.68L577.04 319.69L577.26 321.41L577.48 315.19L577.7 317.78L577.92 312.44L578.14 308.95L578.36 307.32L578.58 308.71L578.8 300.79L579.02 303.19L579.24 300.44L579.46 300.24L579.68 295.08L579.9 296.46L580.12 290.55L580.34 292.55L580.56 282.21L580.78 288.3L581 283.91L581.22 282.56L581.44 281.24L581.66 278.15L581.88 274.11L582.1 274.65L582.32 270.88L582.54 276.76L582.76 270.88L582.98 279.72L583.2 270.88L583.42 275.17L583.64 270.88L583.86 274.15L584.08 275.3L584.3 280.7L584.52 281.81L584.74 281.92L584.96 283.61L585.18 286.78L585.4 284.7L585.62 296.35L585.84 292.57L586.06 299.08L586.28 292.59L586.5 300.82L586.72 300.68L586.94 311.1L587.16 309.25L587.38 313.01L587.6 314.71L587.82 319.6L588.04 320.74L588.26 323.72L588.48 321.55L588.7 330.8L588.92 328.76L589.14 335.28L589.36 335.42L589.58 343.58L589.8 339.24L590.02 348.79L590.24 344.87L590.46 354.12L590.68 348.82L590.9 356.33L591.12 353.59L591.34 363.26L591.56 354.51L591.78 371.37L592 361.83L592.22 373.11L592.44 366.33L592.66 369.2L592.88 367.52L593.1 373.11L593.32 369.21L593.54 369.08L593.76 361.02L593.98 364.77L594.2 363.03L594.42 360.11L594.64 359.38L594.86 357.56L595.08 347.95L595.3 354.02L595.52 346.87L595.74 349.79L595.96 344.7L596.18 341.74L596.4 335.88L596.62 337.54L596.84 329.94L597.06 330.79L597.28 322.66L597.5 324.63L597.72 318.33L597.94 319.6L598.16 313.64L598.38 313.68L598.6 305.99L598.82 305.74L599.04 300.42L599.26 303.08L599.48 295.45L599.7 295.73L599.92 284.5L600.14 289.96L600.36 282.17L600.58 277.6L600.8 281.08L601.02 281.36L601.24 275.91L601.46 280.63L601.68 267.81L601.9 271.92L602.12 267.81L602.34 268.29L602.56 267.81L602.78 280.51L603 268.32L603.22 275.46L603.44 273.56L603.66 278.2L603.88 281.48L604.1 283.16L604.32 280.4L604.54 280.66L604.76 286.77L604.98 290.71L605.2 285.89L605.42 292.54L605.64 292.09L605.86 301.8L606.08 297.35L606.3 303.78L606.52 303.31L606.74 310.88L606.96 308.95L607.18 314.62L607.4 315.86L607.62 319.18L607.84 318.19L608.06 324.22L608.28 322.03L608.5 329.93L608.72 326.85L608.94 335.5L609.16 335.52L609.38 340.93L609.6 338.47L609.82 339.45L610.04 344.02L610.26 348.46L610.48 346.49L610.7 352.24L610.92 351.6L611.14 355.77L611.36 351.46L611.58 362.12L611.8 351.97L612.02 361.61L612.24 358.57L612.46 368.05L612.68 368.25L612.9 368.25L613.12 364.18L613.34 368.25L613.56 358.55L613.78 366.56L614 356.76L614.22 363.8L614.44 355.51L614.66 358.46L614.88 351.45L615.1 354.24L615.32 347.38L615.54 351.07L615.76 341.91L615.98 349.33L616.2 340.83L616.42 340.31L616.64 337.49L616.86 335.36L617.08 327.36L617.3 335.2L617.52 326.23L617.74 325.76L617.96 319.33L618.18 319.74L618.4 314.21L618.62 317.38L618.84 309.15L619.06 309.76L619.28 306.47L619.5 306.35L619.72 300.88L619.94 303.56L620.16 299.42L620.38 299.11L620.6 292.1L620.82 290.97L621.04 296.12L621.26 295.73L621.48 283.03L621.7 292.41L621.92 283.03L622.14 287.84L622.36 283.03L622.58 288.73L622.8 290.45L623.02 295L623.24 283.03L623.46 292.22L623.68 294.31L623.9 296.65L624.12 296.62L624.34 298.91L624.56 302.7L624.78 305.69L625 306.9L625.22 312.73L625.44 310.26L625.66 319.01L625.88 310.97L626.1 322.18L626.32 323.86L626.54 327.8L626.76 326.61L626.98 335.2L627.2 333.22L627.42 339.58L627.64 340.54L627.86 343.46L628.08 346.16L628.3 352.48L628.52 347.72L628.74 353.31L628.96 349.32L629.18 355.99L629.4 355.66L629.62 363.3L629.84 362.08L630.06 367.58L630.28 365.63L630.5 368.25L630.72 359.46L630.94 368.25L631.16 365.36L631.38 365.08L631.6 362.33L631.82 364.17L632.04 363.82L632.26 363.62L632.48 351.74L632.7 352.37L632.92 353.83L633.14 355.97L633.36 351.74L633.58 353.72L633.8 346.07L634.02 347.08L634.24 338.95L634.46 345.4L634.68 339.27L634.9 338.43L635.12 334.19L635.34 336.84L635.56 329.78L635.78 332.04L636 323.89L636.22 327.6L636.44 320.33L636.66 323.96L636.88 316.01L637.1 320.93L637.32 311.5L637.54 313.01L637.76 307.9L637.98 310.77L638.2 305.75L638.42 304.94L638.64 298.08L638.86 302.91L639.08 297.46L639.3 300.57L639.52 293.38L639.74 298.8L639.96 289.78L640.18 294.07L640.4 290.6L640.62 291.86L640.84 285.77L641.06 292.58L641.28 284.87L641.5 283.03L641.72 283.63L641.94 287.93L642.16 284.93L642.38 289.69L642.6 288.87L642.82 294.95L643.04 291.77L643.26 295.37L643.48 294.27L643.7 291.03L643.92 295.73L644.14 297.29L644.36 297.45L644.58 304.01L644.8 302.33L645.02 305.66L645.24 300.91L645.46 310.46L645.68 308.3L645.9 315.26L646.12 308.62L646.34 320.19L646.56 317.54L646.78 323.44L647 317.73L647.22 325.18L647.44 322.28L647.66 332.4L647.88 326.3L648.1 334.19L648.32 325.02L648.54 335.79L648.76 333.17L648.98 338.89L649.2 336L649.42 342.73L649.64 341.8L649.86 347.1L650.08 342.46L650.3 350.81L650.52 346.99L650.74 352.12L650.96 352.38L651.18 357.32L651.4 348.63L651.62 361.77L651.84 358.09L652.06 361.18L652.28 358.92L652.5 361.77L652.72 357.9L652.94 360.72L653.16 358.16L653.38 360.88L653.6 349.51L653.82 351.94L654.04 347.44L654.26 353.35L654.48 346.82L654.7 342.85L654.92 338.4L655.14 341.2L655.36 338.7L655.58 335.58L655.8 335.97L656.02 332.54L656.24 327.3L656.46 326.7L656.68 325.57L656.9 322.85L657.12 313.51L657.34 320.18L657.56 312.14L657.78 312.03L658 302.51L658.22 303.16L658.44 300.04L658.66 300.15L658.88 296.11L659.1 294.16L659.32 288.03L659.54 290.21L659.76 285.22L659.98 289.62L660.2 278.93L660.42 286.2L660.64 275.42L660.86 281.15L661.08 277.54L661.3 277.12L661.52 270.07L661.74 273.14L661.96 270.07L662.18 270.07L662.4 278.43L662.62 280.67L662.84 276.53L663.06 285.79L663.28 284.25L663.5 287.96L663.72 281.9L663.94 293.85L664.16 287.22L664.38 298.82L664.6 300.94L664.82 303.05L665.04 303.95L665.26 307.73L665.48 307.29L665.7 313.66L665.92 315.05L666.14 323.95L666.36 320.87L666.58 330.36L666.8 328.62L667.02 336.56L667.24 334.32L667.46 343.69L667.68 343.54L667.9 343.7L668.12 345.74L668.34 352.11L668.56 350.2L668.78 359.69L669 357.98L669.22 365.76L669.44 362.72L669.66 364.98" stroke="#0000ff" stroke-width="1.65" fill="none" stroke-linejoin="round"/>
<rect x="35.5" y="239.5" width="634.5" height="163.7" fill="none" stroke="#4f4f4f" stroke-width="1"/>
<text x="35" y="236.3" font-family='"Liberation Sans", Arial, sans-serif' font-size="12.2" fill="#262626"><tspan font-size="16" dy="2.3" fill="#4a4a4a">×</tspan><tspan dx="1.2" dy="-2.3">10</tspan><tspan dy="-5.8" font-size="10">8</tspan></text>
<text x="635.2" y="440.5" font-family='"Liberation Sans", Arial, sans-serif' font-size="12.2" fill="#262626"><tspan font-size="16" dy="2.3" fill="#4a4a4a">×</tspan><tspan dx="1.2" dy="-2.3">10</tspan><tspan dy="-5.8" font-size="10">-3</tspan></text>
<path d="M102.2 471.3V631.5M165.3 471.3V631.5M228.4 471.3V631.5M291.5 471.3V631.5M354.6 471.3V631.5M417.7 471.3V631.5M480.8 471.3V631.5M543.9 471.3V631.5M607 471.3V631.5M39.5 471.3H670M39.5 516.6H670M39.5 561.2H670M39.5 606.3H670" stroke="#9c9c9c" stroke-width="1" fill="none"/>
<path d="M102.2 631.5v-6.5M102.2 471.3v6.5M165.3 631.5v-6.5M165.3 471.3v6.5M228.4 631.5v-6.5M228.4 471.3v6.5M291.5 631.5v-6.5M291.5 471.3v6.5M354.6 631.5v-6.5M354.6 471.3v6.5M417.7 631.5v-6.5M417.7 471.3v6.5M480.8 631.5v-6.5M480.8 471.3v6.5M543.9 631.5v-6.5M543.9 471.3v6.5M607 631.5v-6.5M607 471.3v6.5M39.5 471.3h6.5M670 471.3h-6.5M39.5 516.6h6.5M670 516.6h-6.5M39.5 561.2h6.5M670 561.2h-6.5M39.5 606.3h6.5M670 606.3h-6.5" stroke="#4f4f4f" stroke-width="1" fill="none"/>
<g font-family='"Liberation Sans", Arial, sans-serif' font-size="12.4" fill="#262626">
<text x="39.1" y="647.5" text-anchor="middle">0</text>
<text x="102.2" y="647.5" text-anchor="middle">0.2</text>
<text x="165.3" y="647.5" text-anchor="middle">0.4</text>
<text x="228.4" y="647.5" text-anchor="middle">0.6</text>
<text x="291.5" y="647.5" text-anchor="middle">0.8</text>
<text x="354.6" y="647.5" text-anchor="middle">1</text>
<text x="417.7" y="647.5" text-anchor="middle">1.2</text>
<text x="480.8" y="647.5" text-anchor="middle">1.4</text>
<text x="543.9" y="647.5" text-anchor="middle">1.6</text>
<text x="607" y="647.5" text-anchor="middle">1.8</text>
<text x="670.1" y="647.5" text-anchor="middle">2</text>
<text x="35.5" y="475.6" text-anchor="end">4</text>
<text x="35.5" y="520.9" text-anchor="end">2</text>
<text x="35.5" y="565.5" text-anchor="end">0</text>
<text x="35.5" y="610.6" text-anchor="end">-2</text>
</g>
<g font-family='"Liberation Sans", Arial, sans-serif' font-size="12.7" fill="#262626">
<text x="354.75" y="665" text-anchor="middle">Time (s)</text>
<text transform="translate(16 551.4) rotate(-90)" text-anchor="middle">OrbChX__Rx</text>
</g>
<path d="M39.5 561.2H73.6V489.52" stroke="#0000ff" stroke-width="1.15" fill="none"/>
<path d="M73.6 491.76L73.6 490.54L73.9 486.86L74.29 491.61L74.88 498.53L75.86 511.19L77.33 530.86L78.8 550.39L80.27 570.78L81.74 590.63L82.72 602.85L83.31 610.03L83.2 611.96L83.48 614.66L83.65 612.56L83.82 614.96L84 612.36L84.12 614.06L84.3 611.56L84.09 610.11L84.68 603.1L85.66 590.65L87.13 570.97L88.6 550.71L90.07 530.57L91.54 511.3L92.52 498.7L93.11 491.34L93 489.83L93.28 487.13L93.45 489.23L93.62 486.83L93.8 489.43L93.92 487.73L94.1 490.23L93.89 491.81L94.48 498.68L95.46 510.87L96.93 530.63L98.4 550.98L99.87 571.11L101.34 590.83L102.32 602.79L102.91 610.41L102.8 611.96L103.08 614.66L103.25 612.56L103.42 614.96L103.6 612.36L103.72 614.06L103.9 611.56L103.69 610.84L104.28 603.5L105.26 590.57L106.73 571.03L108.2 551.05L109.67 531.11L111.14 511.17L112.12 498.94L112.71 491.71L112.6 489.83L112.88 487.13L113.05 489.23L113.22 486.83L113.4 489.43L113.52 487.73L113.7 490.23L113.49 491.49L114.08 498.93L115.06 511.01L116.53 530.93L118 551.04L119.47 571.18L120.94 590.2L121.92 602.6L122.51 609.99L122.4 611.96L122.68 614.66L122.85 612.56L123.02 614.96L123.2 612.36L123.32 614.06L123.5 611.56L123.29 610.54L123.88 603.11L124.86 590.37L126.33 570.84L127.8 551.43L129.27 530.7L130.74 511.36L131.72 498.43L132.31 491.29L132.2 489.83L132.48 487.13L132.65 489.23L132.82 486.83L133 489.43L133.12 487.73L133.3 490.23L133.09 491.66L133.68 497.97L134.66 511.2L136.13 529.89L137.6 550.95L139.07 571.13L140.54 590.06L141.52 603.29L142.11 610.44L142 611.96L142.28 614.66L142.45 612.56L142.62 614.96L142.8 612.36L142.92 614.06L143.1 611.56L142.89 609.81L143.48 603.12L144.46 590.52L145.93 571.5L147.4 550.31L148.87 530.37L150.34 511L151.32 498.44L151.91 491.66L151.8 489.83L152.08 487.13L152.25 489.23L152.42 486.83L152.6 489.43L152.72 487.73L152.9 490.23L152.69 491.64L153.28 499.19L154.26 510.99L155.73 530.28L157.2 550.62L158.67 570.8L160.14 590.44L161.12 603.42L161.71 610.71L161.6 611.96L161.88 614.66L162.05 612.56L162.22 614.96L162.4 612.36L162.52 614.06L162.7 611.56L162.49 610.09L163.08 603.06L164.06 590.35L165.53 571.18L167 551.19L168.47 530.54L169.94 511.3L170.92 499.2L171.51 491.7L171.4 489.83L171.68 487.13L171.85 489.23L172.02 486.83L172.2 489.43L172.32 487.73L172.5 490.23L172.29 491.77L172.88 499.04L173.86 511.29L175.33 530.38L176.8 550.14L178.27 570.53L179.74 590.8L180.72 602.74L181.31 610.31L181.2 611.96L181.48 614.66L181.65 612.56L181.82 614.96L182 612.36L182.12 614.06L182.3 611.56L182.09 610.16L182.68 603.33L183.66 590.7L185.13 571.63L186.6 550.31L188.07 530.93L189.54 510.93L190.52 498.86L191.11 491.41L191 489.83L191.28 487.13L191.45 489.23L191.62 486.83L191.8 489.43L191.92 487.73L192.1 490.23L191.89 491.87L192.48 498.8L193.46 510.82L194.93 530.49L196.4 551.51L197.87 570.82L199.34 591.09L200.32 603.02L200.91 610.13L200.8 611.96L201.08 614.66L201.25 612.56L201.42 614.96L201.6 612.36L201.72 614.06L201.9 611.56L201.69 610.51L202.28 603.21L203.26 590.75L204.73 570.97L206.2 550.6L207.67 530.25L209.14 511.01L210.12 498.03L210.71 491.81L210.6 489.83L210.88 487.13L211.05 489.23L211.22 486.83L211.4 489.43L211.52 487.73L211.7 490.23L211.49 490.92L212.08 498.76L213.06 510.87L214.53 530.73L216 550.86L217.47 571.4L218.94 590.54L219.92 602.45L220.51 610.24L220.4 611.96L220.68 614.66L220.85 612.56L221.02 614.96L221.2 612.36L221.32 614.06L221.5 611.56L221.29 610.3L221.88 603.11L222.86 590.44L224.33 571.16L225.8 550.9L227.27 530.62L228.74 510.69L229.72 498.37L230.31 491.84L230.2 489.83L230.48 487.13L230.65 489.23L230.82 486.83L231 489.43L231.12 487.73L231.3 490.23L231.09 491.69L231.68 498.67L232.66 510.84L234.13 530.37L235.6 550.96L237.07 570.4L238.54 590.72L239.52 602.65L240.11 609.84L240 611.96L240.28 614.66L240.45 612.56L240.62 614.96L240.8 612.36L240.92 614.06L241.1 611.56L240.89 609.77L241.48 603.05L242.46 590.48L243.93 571.58L245.4 551.48L246.87 530.88L248.34 510.88L249.32 498.33L249.91 491.53L249.8 489.83L250.08 487.13L250.25 489.23L250.42 486.83L250.6 489.43L250.72 487.73L250.9 490.23L250.69 491.16L251.28 498.49L252.26 510.63L253.73 531.21L255.2 551.15L256.67 571.42L258.14 591L259.12 602.57L259.71 610.59L259.6 611.96L259.88 614.66L260.05 612.56L260.22 614.96L260.4 612.36L260.52 614.06L260.7 611.56L260.49 610.57L261.08 603.24L262.06 590.38L263.53 571.24L265 550.65L266.47 530.51L267.94 511.33L268.92 499.43L269.51 491.8L269.4 489.83L269.68 487.13L269.85 489.23L270.02 486.83L270.2 489.43L270.32 487.73L270.5 490.23L270.29 491.89L270.88 498.14L271.86 511.34L273.33 531.04L274.8 550.77L276.27 571.08L277.74 590.97L278.72 602.75L279.31 610L279.2 611.96L279.48 614.66L279.65 612.56L279.82 614.96L280 612.36L280.12 614.06L280.3 611.56L280.09 610.2L280.68 603.35L281.66 590.96L283.13 571.75L284.6 550.77L286.07 530.56L287.54 511.42L288.52 498.66L289.11 490.42L289 489.83L289.28 487.13L289.45 489.23L289.62 486.83L289.8 489.43L289.92 487.73L290.1 490.23L289.89 491.85L290.48 499.24L291.46 510.92L292.93 530.83L294.4 551.05L295.87 570.9L297.34 590.71L298.32 602.79L298.91 610.13L298.8 611.96L299.08 614.66L299.25 612.56L299.42 614.96L299.6 612.36L299.72 614.06L299.9 611.56L299.69 609.91L300.28 603.07L301.26 591.38L302.73 570.66L304.2 551.46L305.67 530.35L307.14 511.04L308.12 499.12L308.71 491.47L308.6 489.83L308.88 487.13L309.05 489.23L309.22 486.83L309.4 489.43L309.52 487.73L309.7 490.23L309.49 491.21L310.08 499.01L311.06 511.1L312.53 530.93L314 551.21L315.47 571.31L316.94 590.26L317.92 602.89L318.51 610.3L318.4 611.96L318.68 614.66L318.85 612.56L319.02 614.96L319.2 612.36L319.32 614.06L319.5 611.56L319.29 610.32L319.88 603.07L320.86 590.58L322.33 571.04L323.8 551.46L325.27 530.39L326.74 511.4L327.72 499.5L328.31 491.26L328.2 489.83L328.48 487.13L328.65 489.23L328.82 486.83L329 489.43L329.12 487.73L329.3 490.23L329.09 491.88L329.68 498.72L330.66 511.14L332.13 530.88L333.6 550.72L335.07 571.19L336.54 590.76L337.52 603.43L338.11 610.38L338 611.96L338.28 614.66L338.45 612.56L338.62 614.96L338.8 612.36L338.92 614.06L339.1 611.56L338.89 610.64L339.48 603.1L340.46 590.24L341.93 570.78L343.4 550.75L344.87 531.12L346.34 510.78L347.32 498.37L347.91 490.82L347.8 489.83L348.08 487.13L348.25 489.23L348.42 486.83L348.6 489.43L348.72 487.73L348.9 490.23L348.69 492.21L349.28 498.67L350.26 511.22L351.73 530.33L353.2 551.24L354.67 571.23L356.14 589.93L357.12 602.79L357.71 610.93L357.6 611.96L357.88 614.66L358.05 612.56L358.22 614.96L358.4 612.36L358.52 614.06L358.7 611.56L358.49 610.29L359.08 602.67L360.06 590.88L361.53 570.91L363 550.86L364.47 531.15L365.94 511.33L366.92 498.31L367.51 491.1L367.4 489.83L367.68 487.13L367.85 489.23L368.02 486.83L368.2 489.43L368.32 487.73L368.5 490.23L368.29 491.68L368.88 498.31L369.86 511.34L371.33 530.61L372.8 550.9L374.27 571.51L375.74 590.57L376.72 603.24L377.31 611.17L377.2 611.96L377.48 614.66L377.65 612.56L377.82 614.96L378 612.36L378.12 614.06L378.3 611.56L378.09 610.57L378.68 603.38L379.66 590.95L381.13 571.41L382.6 551.12L384.07 531.47L385.54 510.82L386.52 498.65L387.11 491.41L387 489.83L387.28 487.13L387.45 489.23L387.62 486.83L387.8 489.43L387.92 487.73L388.1 490.23L387.89 491.58L388.48 498.66L389.46 511.2L390.93 531.05L392.4 551.38L393.87 571.08L395.34 590.35L396.32 603.04L396.91 609.78L396.8 611.96L397.08 614.66L397.25 612.56L397.42 614.96L397.6 612.36L397.72 614.06L397.9 611.56L397.69 610.75L398.28 603.2L399.26 590.88L400.73 570.7L402.2 550.34L403.67 530.86L405.14 510.88L406.12 498.75L406.71 491.83L406.6 489.83L406.88 487.13L407.05 489.23L407.22 486.83L407.4 489.43L407.52 487.73L407.7 490.23L407.49 491.53L408.08 499.02L409.06 510.62L410.53 530.5L412 550.51L413.47 570.98L414.94 591.45L415.92 602.85L416.51 610.27L416.4 611.96L416.68 614.66L416.85 612.56L417.02 614.96L417.2 612.36L417.32 614.06L417.5 611.56L417.29 611.08L417.88 603.08L418.86 590.34L420.33 570.55L421.8 551.23L423.27 530.44L424.74 511.01L425.72 498.73L426.31 491.59L426.2 489.83L426.48 487.13L426.65 489.23L426.82 486.83L427 489.43L427.12 487.73L427.3 490.23L427.09 491.32L427.68 498.49L428.66 510.91L430.13 530.83L431.6 551.32L433.07 570.67L434.54 590.25L435.52 603.3L436.11 610.31L436 611.96L436.28 614.66L436.45 612.56L436.62 614.96L436.8 612.36L436.92 614.06L437.1 611.56L436.89 610.03L437.48 603.68L438.46 590.51L439.93 570.32L441.4 550.81L442.87 530.92L444.34 510.44L445.32 498.67L445.91 491.43L445.8 489.83L446.08 487.13L446.25 489.23L446.42 486.83L446.6 489.43L446.72 487.73L446.9 490.23L446.69 491.63L447.28 498.62L448.26 511.69L449.73 531.11L451.2 551.37L452.67 570.8L454.14 590.7L455.12 602.73L455.71 610.95L455.6 611.96L455.88 614.66L456.05 612.56L456.22 614.96L456.4 612.36L456.52 614.06L456.7 611.56L456.49 610.49L457.08 602.65L458.06 590.94L459.53 571.7L461 551.14L462.47 530.8L463.94 511.12L464.92 498.26L465.51 491.06L465.4 489.83L465.68 487.13L465.85 489.23L466.02 486.83L466.2 489.43L466.32 487.73L466.5 490.23L466.29 490.99L466.88 498.49L467.86 511.28L469.33 530.85L470.8 551.37L472.27 570.68L473.74 590.27L474.72 603.09L475.31 610.58L475.2 611.96L475.48 614.66L475.65 612.56L475.82 614.96L476 612.36L476.12 614.06L476.3 611.56L476.09 610.07L476.68 602.96L477.66 590.62L479.13 571.48L480.6 550.82L482.07 530.87L483.54 510.87L484.52 498.48L485.11 491.35L485 489.83L485.28 487.13L485.45 489.23L485.62 486.83L485.8 489.43L485.92 487.73L486.1 490.23L485.89 491.63L486.48 498.17L487.46 510.87L488.93 530.27L490.4 550.63L491.87 570.88L493.34 590.55L494.32 603.47L494.91 610.88L494.8 611.96L495.08 614.66L495.25 612.56L495.42 614.96L495.6 612.36L495.72 614.06L495.9 611.56L495.69 610.61L496.28 602.92L497.26 590.37L498.73 571.04L500.2 550.87L501.67 530.1L503.14 511.25L504.12 499.25L504.71 492.01L504.6 489.83L504.88 487.13L505.05 489.23L505.22 486.83L505.4 489.43L505.52 487.73L505.7 490.23L505.49 491.6L506.08 498.45L507.06 510.88L508.53 530.76L510 550.63L511.47 571.12L512.94 590.91L513.92 603.24L514.51 610.05L514.4 611.96L514.68 614.66L514.85 612.56L515.02 614.96L515.2 612.36L515.32 614.06L515.5 611.56L515.29 609.98L515.88 603.48L516.86 591L518.33 571.06L519.8 550.19L521.27 531.07L522.74 511.53L523.72 498.54L524.31 491.33L524.2 489.83L524.48 487.13L524.65 489.23L524.82 486.83L525 489.43L525.12 487.73L525.3 490.23L525.09 491.69L525.68 498.69L526.66 510.96L528.13 531.26L529.6 550.9L531.07 570.9L532.54 590.38L533.52 602.73L534.11 610.32L534 611.96L534.28 614.66L534.45 612.56L534.62 614.96L534.8 612.36L534.92 614.06L535.1 611.56L534.89 610.77L535.48 602.68L536.46 590.42L537.93 571.31L539.4 550.55L540.87 530.36L542.34 511.16L543.32 499.44L543.91 491.65L543.8 489.83L544.08 487.13L544.25 489.23L544.42 486.83L544.6 489.43L544.72 487.73L544.9 490.23L544.69 491.74L545.28 498.95L546.26 511.14L547.73 531.05L549.2 550.77L550.67 570.48L552.14 591.06L553.12 602.77L553.71 610.47L553.6 611.96L553.88 614.66L554.05 612.56L554.22 614.96L554.4 612.36L554.52 614.06L554.7 611.56L554.49 610.12L555.08 603.16L556.06 590.25L557.53 571.33L559 550.65L560.47 530.94L561.94 511.04L562.92 498.68L563.51 491.14L563.4 489.83L563.68 487.13L563.85 489.23L564.02 486.83L564.2 489.43L564.32 487.73L564.5 490.23L564.29 492L564.88 499.12L565.86 510.67L567.33 530.56L568.8 550.35L570.27 571.44L571.74 590.61L572.72 602.92L573.31 609.73L573.2 611.96L573.48 614.66L573.65 612.56L573.82 614.96L574 612.36L574.12 614.06L574.3 611.56L574.09 610.31L574.68 603.26L575.66 590.44L577.13 571.13L578.6 551.14L580.07 530.44L581.54 511.74L582.52 499L583.11 491.05L583 489.83L583.28 487.13L583.45 489.23L583.62 486.83L583.8 489.43L583.92 487.73L584.1 490.23L583.89 491.66L584.48 498.78L585.46 511L586.93 530.32L588.4 550.73L589.87 571.42L591.34 590.86L592.32 602.77L592.91 610.34L592.8 611.96L593.08 614.66L593.25 612.56L593.42 614.96L593.6 612.36L593.72 614.06L593.9 611.56L593.69 610.5L594.28 602.83L595.26 590.3L596.73 570.4L598.2 551.25L599.67 530.92L601.14 511.35L602.12 498.56L602.71 491.65L602.6 489.83L602.88 487.13L603.05 489.23L603.22 486.83L603.4 489.43L603.52 487.73L603.7 490.23L603.49 491.14L604.08 499.56L605.06 510.81L606.53 530.9L608 550.98L609.47 570.92L610.94 590.61L611.92 603.45L612.51 609.81L612.4 611.96L612.68 614.66L612.85 612.56L613.02 614.96L613.2 612.36L613.32 614.06L613.5 611.56L613.29 610.11L613.88 603.27L614.86 590.6L616.33 571.46L617.8 551.3L619.27 530.79L620.74 511L621.72 498.64L622.31 491.75L622.2 489.83L622.48 487.13L622.65 489.23L622.82 486.83L623 489.43L623.12 487.73L623.3 490.23L623.09 491.94L623.68 499.23L624.66 510.6L626.13 530.57L627.6 551.15L629.07 570.71L630.54 590.5L631.52 603.25L632.11 610.49L632 611.96L632.28 614.66L632.45 612.56L632.62 614.96L632.8 612.36L632.92 614.06L633.1 611.56L632.89 609.92L633.48 603.01L634.46 590.14L635.93 570.98L637.4 551.09L638.87 530.88L640.34 511.35L641.32 498.6L641.91 491.41L641.8 489.83L642.08 487.13L642.25 489.23L642.42 486.83L642.6 489.43L642.72 487.73L642.9 490.23L642.69 491.3L643.28 498.53L644.26 511.46L645.73 530.76L647.2 551.2L648.67 570.94L650.14 591.1L651.12 603.31L651.71 610.57L651.6 611.96L651.88 614.66L652.05 612.56L652.22 614.96L652.4 612.36L652.52 614.06L652.7 611.56L652.49 610.5L653.08 603.2L654.06 590.18L655.53 571.18L657 551.37L658.47 530.79L659.94 510.87L660.92 498.5L661.51 491.42L661.4 489.83L661.68 487.13L661.85 489.23L662.02 486.83L662.2 489.43L662.32 487.73L662.5 490.23L662.29 490.85L662.88 498.31L663.86 511.09L665.33 530.29L666.8 551.33L668.27 571.16L669.74 590.95L670 593.97" stroke="#0000ff" stroke-width="1.75" fill="none" stroke-linejoin="miter" stroke-miterlimit="6"/>
<rect x="39.5" y="471.3" width="630.5" height="160.2" fill="none" stroke="#4f4f4f" stroke-width="1"/>
<text x="38.7" y="467.3" font-family='"Liberation Sans", Arial, sans-serif' font-size="12.2" fill="#262626"><tspan font-size="16" dy="2.3" fill="#4a4a4a">×</tspan><tspan dx="1.2" dy="-2.3">10</tspan><tspan dy="-5.8" font-size="10">8</tspan></text>
<text x="635.2" y="669" font-family='"Liberation Sans", Arial, sans-serif' font-size="12.2" fill="#262626"><tspan font-size="16" dy="2.3" fill="#4a4a4a">×</tspan><tspan dx="1.2" dy="-2.3">10</tspan><tspan dy="-5.8" font-size="10">-3</tspan></text>
<path d="M105.98 685V859.2M168.66 685V859.2M231.34 685V859.2M294.02 685V859.2M356.7 685V859.2M419.38 685V859.2M482.06 685V859.2M544.74 685V859.2M607.42 685V859.2M43.5 702.5H670M43.5 730.28H670M43.5 758.06H670M43.5 785.84H670M43.5 813.62H670M43.5 841.4H670" stroke="#9c9c9c" stroke-width="1" fill="none"/>
<path d="M105.98 859.2v-6.5M105.98 685v6.5M168.66 859.2v-6.5M168.66 685v6.5M231.34 859.2v-6.5M231.34 685v6.5M294.02 859.2v-6.5M294.02 685v6.5M356.7 859.2v-6.5M356.7 685v6.5M419.38 859.2v-6.5M419.38 685v6.5M482.06 859.2v-6.5M482.06 685v6.5M544.74 859.2v-6.5M544.74 685v6.5M607.42 859.2v-6.5M607.42 685v6.5M43.5 702.5h6.5M670 702.5h-6.5M43.5 730.28h6.5M670 730.28h-6.5M43.5 758.06h6.5M670 758.06h-6.5M43.5 785.84h6.5M670 785.84h-6.5M43.5 813.62h6.5M670 813.62h-6.5M43.5 841.4h6.5M670 841.4h-6.5" stroke="#4f4f4f" stroke-width="1" fill="none"/>
<g font-family='"Liberation Sans", Arial, sans-serif' font-size="12.4" fill="#262626">
<text x="43.3" y="875.2" text-anchor="middle">0</text>
<text x="105.98" y="875.2" text-anchor="middle">0.2</text>
<text x="168.66" y="875.2" text-anchor="middle">0.4</text>
<text x="231.34" y="875.2" text-anchor="middle">0.6</text>
<text x="294.02" y="875.2" text-anchor="middle">0.8</text>
<text x="356.7" y="875.2" text-anchor="middle">1</text>
<text x="419.38" y="875.2" text-anchor="middle">1.2</text>
<text x="482.06" y="875.2" text-anchor="middle">1.4</text>
<text x="544.74" y="875.2" text-anchor="middle">1.6</text>
<text x="607.42" y="875.2" text-anchor="middle">1.8</text>
<text x="670.1" y="875.2" text-anchor="middle">2</text>
<text x="39.5" y="706.8" text-anchor="end">1</text>
<text x="39.5" y="734.58" text-anchor="end">0.8</text>
<text x="39.5" y="762.36" text-anchor="end">0.6</text>
<text x="39.5" y="790.14" text-anchor="end">0.4</text>
<text x="39.5" y="817.92" text-anchor="end">0.2</text>
<text x="39.5" y="845.7" text-anchor="end">0</text>
</g>
<g font-family='"Liberation Sans", Arial, sans-serif' font-size="12.7" fill="#262626">
<text x="356.75" y="892.8" text-anchor="middle">Time (s)</text>
<text transform="translate(17.7 772.1) rotate(-90)" text-anchor="middle">Data__Ch1__Rx</text>
</g>
<path d="M79.4 841.4H114.6V702.5H117.1V841.4H119.61V702.5H122.11V841.4H124.62V702.5H127.12V841.4H129.62V702.5H132.13V841.4H142.14V702.5H152.16V841.4H154.66V702.5H157.17V841.4H162.18V702.5H167.18V841.4H169.69V702.5H172.19V841.4H174.7V702.5H177.2V841.4H179.7V702.5H182.21V841.4H184.71V702.5H192.22V841.4H194.73V702.5H199.74V841.4H209.75V702.5H212.26V841.4H214.76V702.5H222.27V841.4H227.28V702.5H229.78V841.4H232.29V702.5H237.3V841.4H242.3V702.5H244.81V841.4H252.32V702.5H257.33V841.4H262.34V702.5H264.84V841.4H267.34V702.5H272.35V841.4H277.36V702.5H279.86V841.4H282.37V702.5H289.88V841.4H294.89V702.5H297.39V841.4H302.4V702.5H307.41V841.4H309.91V702.5H317.42V841.4H322.43V702.5H324.94V841.4H327.44V702.5H332.45V841.4H337.46V702.5H339.96V841.4H347.47V702.5H349.98V841.4H357.49V702.5H362.5V841.4H367.5V702.5H370.01V841.4H372.51V702.5H377.52V841.4H382.53V702.5H385.03V841.4H387.54V702.5H395.05V841.4H400.06V702.5H402.56V841.4H405.06V702.5H407.57V841.4H410.07V702.5H412.58V841.4H415.08V702.5H417.58V841.4H427.6V702.5H437.62V841.4H440.12V702.5H442.62V841.4H447.63V702.5H452.64V841.4H455.14V702.5H457.65V841.4H460.15V702.5H462.66V841.4H465.16V702.5H467.66V841.4H470.17V702.5H477.68V841.4H480.18V702.5H485.19V841.4H492.7V702.5H500.22V841.4H502.72V702.5H505.22V841.4H507.73V702.5H515.24V841.4H517.74V702.5H525.26V841.4H532.77V702.5H537.78V841.4H540.28V702.5H542.78V841.4H545.29V702.5H550.3V841.4H552.8V702.5H557.81V841.4H562.82V702.5H565.32V841.4H572.83V702.5H582.85V841.4H585.35V702.5H587.86V841.4H592.86V702.5H595.37V841.4H597.87V702.5H600.38V841.4H602.88V702.5H607.89V841.4H612.9V702.5H615.4V841.4H617.9V702.5H620.41V841.4H627.92V702.5H630.42V841.4H632.93V702.5H640.44V841.4H650.46V702.5H655.46V841.4H657.97V702.5H660.47V841.4H662.98V702.5H665.48V841.4H670" stroke="#0000ff" stroke-width="1.1" fill="none" stroke-linejoin="miter"/>
<rect x="43.5" y="685" width="626.5" height="174.2" fill="none" stroke="#4f4f4f" stroke-width="1"/>
<text x="635.2" y="896" font-family='"Liberation Sans", Arial, sans-serif' font-size="12.2" fill="#262626"><tspan font-size="16" dy="2.3" fill="#4a4a4a">×</tspan><tspan dx="1.2" dy="-2.3">10</tspan><tspan dy="-5.8" font-size="10">-3</tspan></text>
<text x="342.2" y="917.8" text-anchor="middle" font-family='"Liberation Sans", Arial, sans-serif' font-weight="bold" font-size="18" fill="#000">(a)</text>
<rect x="3.5" y="941.5" width="132.5" height="28" fill="#f0f0f0" stroke="#dedede" stroke-width="1"/>
<rect x="140.5" y="941.5" width="68" height="28" fill="#f0f0f0" stroke="#dedede" stroke-width="1"/>
<path d="M3.5 969.5H136M140.5 969.5H208.5" stroke="#cfcfcf" stroke-width="1"/>
<text x="6.7" y="959.6" font-family='"Liberation Sans", "DejaVu Sans", sans-serif' font-weight="bold" font-size="11.4" fill="#0c0c0c" textLength="29.4" lengthAdjust="spacingAndGlyphs">Name</text>
<text x="153.8" y="959.6" font-family='"Liberation Sans", "DejaVu Sans", sans-serif' font-weight="bold" font-size="11.4" fill="#0c0c0c" textLength="29.8" lengthAdjust="spacingAndGlyphs">Value</text>
<path d="M12.8 991.5H80.6V1013H112.2V1161H95.8V1182.7H12.8Z" fill="#cfdefb"/>
<rect x="142.7" y="991.5" width="62.8" height="191.2" fill="#cfdefb"/>
<rect x="143.2" y="1161.5" width="62" height="21" fill="#cfdefb" stroke="#5b9bd5" stroke-width="1"/>
<path d="M215.5 970V1183.3" stroke="#d0d0d0" stroke-width="1"/>
<g font-family='"Liberation Sans", "DejaVu Sans", sans-serif' font-size="11.6" fill="#101018">
<text x="25.8" y="985.5" textLength="13.6" lengthAdjust="spacingAndGlyphs">clk</text>
<text x="146" y="985.2">0</text>
<text x="25.8" y="1007" textLength="45.5" lengthAdjust="spacingAndGlyphs">Data_Ch1</text>
<text x="146" y="1006.7">0</text>
<text x="25.8" y="1055" textLength="80.6" lengthAdjust="spacingAndGlyphs">OrbChX_Tx[39:0]</text>
<text x="146" y="1054.7" textLength="52.8" lengthAdjust="spacingAndGlyphs">140021176</text>
<text x="25.8" y="1129.6" textLength="81.3" lengthAdjust="spacingAndGlyphs">OrbChX_Rx[39:0]</text>
<text x="146" y="1129.3" textLength="52.8" lengthAdjust="spacingAndGlyphs">147310451</text>
<text x="25.8" y="1177.3" textLength="61.5" lengthAdjust="spacingAndGlyphs">Data_ch1_Rx</text>
<text x="146" y="1177">1</text>
</g>
<rect x="16.2" y="976.6" width="3.4" height="6.6" fill="#b4e0c1"/>
<path d="M13.4 976.2h2.3v7.2h4.5v-7.2h1.5" fill="none" stroke="#43b067" stroke-width="1.5"/>
<circle cx="19.9" cy="982.2" r="2.45" fill="#ececec" stroke="#8d8d8d" stroke-width="0.9"/>
<circle cx="19.9" cy="982.2" r="0.85" fill="#6f6f6f"/>
<rect x="16.2" y="998.1" width="3.4" height="6.6" fill="#b4e0c1"/>
<path d="M13.4 997.7h2.3v7.2h4.5v-7.2h1.5" fill="none" stroke="#43b067" stroke-width="1.5"/>
<circle cx="19.9" cy="1003.7" r="2.45" fill="#ececec" stroke="#8d8d8d" stroke-width="0.9"/>
<circle cx="19.9" cy="1003.7" r="0.85" fill="#6f6f6f"/>
<path d="M13.1 1046.2h3.6l1.3 2.2l1.3-2.2h3.6v5.6h-9.8z" fill="#8fc3d3" stroke="#7aa9ba" stroke-width="0.6"/>
<circle cx="18" cy="1051.5" r="2.5" fill="#e8e8e8" stroke="#8a8a8a" stroke-width="0.9"/>
<circle cx="18" cy="1051.5" r="0.8" fill="#6f6f6f"/>
<path d="M3.2 1047.9l2.6 2.9l-2.6 2.9" fill="none" stroke="#9a9a9a" stroke-width="1"/>
<path d="M13.1 1120.8h3.6l1.3 2.2l1.3-2.2h3.6v5.6h-9.8z" fill="#8fc3d3" stroke="#7aa9ba" stroke-width="0.6"/>
<circle cx="18" cy="1126.1" r="2.5" fill="#e8e8e8" stroke="#8a8a8a" stroke-width="0.9"/>
<circle cx="18" cy="1126.1" r="0.8" fill="#6f6f6f"/>
<path d="M3.2 1122.5l2.6 2.9l-2.6 2.9" fill="none" stroke="#9a9a9a" stroke-width="1"/>
<rect x="16.2" y="1168.4" width="3.4" height="6.6" fill="#b4e0c1"/>
<path d="M13.4 1168h2.3v7.2h4.5v-7.2h1.5" fill="none" stroke="#43b067" stroke-width="1.5"/>
<circle cx="19.9" cy="1174" r="2.45" fill="#ececec" stroke="#8d8d8d" stroke-width="0.9"/>
<circle cx="19.9" cy="1174" r="0.85" fill="#6f6f6f"/>
<g font-family='"Liberation Mono", "DejaVu Sans Mono", monospace' font-weight="bold" font-size="9.8" fill="#111">
<text x="216.3" y="959.4" textLength="64.8" lengthAdjust="spacingAndGlyphs">0.000000 us</text>
<text x="364.9" y="959.4" textLength="77" lengthAdjust="spacingAndGlyphs">100.000000 us</text>
<text x="512.9" y="959.4" textLength="77" lengthAdjust="spacingAndGlyphs">200.000000 us</text>
<text x="661.0" y="959.4" textLength="23.5" lengthAdjust="spacingAndGlyphs">300.</text>
</g>
<path d="M289.5 970V1183.3M363.5 970V1183.3M437.5 970V1183.3M512.5 970V1183.3M586.5 970V1183.3M660.5 970V1183.3" stroke="#d9d9d9" stroke-width="1" fill="none"/>
<rect x="215" y="972.8" width="467" height="17.6" fill="#062c66"/>
<rect x="215" y="1002.3" width="162.7" height="9.1" fill="#fde2ae"/>
<path d="M215 1002.3H377.7" stroke="#f2a31b" stroke-width="1.6"/>
<path d="M377.7 994.4H383.67V1011.4H377.7ZM389.64 994.4H395.6V1011.4H389.64ZM401.57 994.4H407.54V1011.4H401.57ZM413.51 994.4H419.48V1011.4H413.51ZM425.44 994.4H449.32V1011.4H425.44ZM455.28 994.4H461.25V1011.4H455.28ZM467.22 994.4H473.19V1011.4H467.22ZM479.16 994.4H485.12V1011.4H479.16ZM491.09 994.4H514.96V1011.4H491.09ZM520.93 994.4H526.9V1011.4H520.93ZM532.87 994.4H538.84V1011.4H532.87ZM544.8 994.4H550.77V1011.4H544.8ZM556.74 994.4H580.61V1011.4H556.74ZM586.58 994.4H592.55V1011.4H586.58ZM598.52 994.4H604.48V1011.4H598.52ZM610.45 994.4H616.42V1011.4H610.45ZM622.39 994.4H646.26V1011.4H622.39ZM652.23 994.4H658.2V1011.4H652.23ZM664.16 994.4H670.13V1011.4H664.16ZM676.1 994.4H682V1011.4H676.1Z" fill="#adbbd2"/>
<path d="M377.7 1011.4H377.7V994.4H383.67V1011.4H389.64V994.4H395.6V1011.4H401.57V994.4H407.54V1011.4H413.51V994.4H419.48V1011.4H425.44V994.4H449.32V1011.4H455.28V994.4H461.25V1011.4H467.22V994.4H473.19V1011.4H479.16V994.4H485.12V1011.4H491.09V994.4H514.96V1011.4H520.93V994.4H526.9V1011.4H532.87V994.4H538.84V1011.4H544.8V994.4H550.77V1011.4H556.74V994.4H580.61V1011.4H586.58V994.4H592.55V1011.4H598.52V994.4H604.48V1011.4H610.45V994.4H616.42V1011.4H622.39V994.4H646.26V1011.4H652.23V994.4H658.2V1011.4H664.16V994.4H670.13V1011.4H676.1V994.4H682H682" stroke="#062c66" stroke-width="1.5" fill="none"/>
<rect x="215" y="1172.6" width="171.8" height="8.8" fill="#fde2ae"/>
<path d="M215 1172.6H386.8" stroke="#f2a31b" stroke-width="1.6"/>
<path d="M386.8 1164.4H392.74V1181.4H386.8ZM398.67 1164.4H404.61V1181.4H398.67ZM410.54 1164.4H416.48V1181.4H410.54ZM422.42 1164.4H428.35V1181.4H422.42ZM434.29 1164.4H458.03V1181.4H434.29ZM463.97 1164.4H469.9V1181.4H463.97ZM475.84 1164.4H481.78V1181.4H475.84ZM487.71 1164.4H493.65V1181.4H487.71ZM499.58 1164.4H523.33V1181.4H499.58ZM529.26 1164.4H535.2V1181.4H529.26ZM541.14 1164.4H547.07V1181.4H541.14ZM553.01 1164.4H558.94V1181.4H553.01ZM564.88 1164.4H588.62V1181.4H564.88ZM594.56 1164.4H600.5V1181.4H594.56ZM606.43 1164.4H612.37V1181.4H606.43ZM618.3 1164.4H624.24V1181.4H618.3ZM630.18 1164.4H653.92V1181.4H630.18ZM659.86 1164.4H665.79V1181.4H659.86ZM671.73 1164.4H677.66V1181.4H671.73Z" fill="#adbbd2"/>
<path d="M386.8 1181.4H386.8V1164.4H392.74V1181.4H398.67V1164.4H404.61V1181.4H410.54V1164.4H416.48V1181.4H422.42V1164.4H428.35V1181.4H434.29V1164.4H458.03V1181.4H463.97V1164.4H469.9V1181.4H475.84V1164.4H481.78V1181.4H487.71V1164.4H493.65V1181.4H499.58V1164.4H523.33V1181.4H529.26V1164.4H535.2V1181.4H541.14V1164.4H547.07V1181.4H553.01V1164.4H558.94V1181.4H564.88V1164.4H588.62V1181.4H594.56V1164.4H600.5V1181.4H606.43V1164.4H612.37V1181.4H618.3V1164.4H624.24V1181.4H630.18V1164.4H653.92V1181.4H659.86V1164.4H665.79V1181.4H671.73V1164.4H677.66V1181.4H682" stroke="#062c66" stroke-width="1.5" fill="none"/>
<path d="M215 1051.6H378.11" stroke="#f4b54a" stroke-width="1.1"/>
<path d="M378.11 1051.44 L378.11 1032.33 L379.85 1034.32 L380.84 1032.42 L381.84 1031.09 L383.57 1027.37 L384.81 1021.17 L386.05 1027.87 L387.79 1029.85 L389.28 1027.37 L390.77 1032.33 L392.26 1034.81 L392.51 1049.21 L393 1036.05 L394.06 1037.65 L395.11 1039.01 L396.17 1040.82 L397.22 1042.26 L398.21 1043.64 L399.21 1044.26 L400.2 1045.44 L401.19 1047.59 L402.18 1048.46 L403.18 1049.44 L404.17 1050.65 L405.16 1052.73 L406.15 1053.39 L407.15 1054.67 L408.39 1056.9 L409.63 1058.39 L410.37 1054.17 L411.36 1059.63 L412.36 1060.84 L413.35 1062.11 L415.09 1061.61 L416.33 1065.12 L417.57 1068.31 L418.56 1070.41 L419.55 1073.28 L420.3 1077.49 L421.29 1073.28 L422.37 1073.67 L423.44 1074.18 L424.52 1074.02 L425.45 1074.17 L426.38 1074.53 L427.31 1074.58 L428.24 1074.52 L429.17 1073.73 L430.1 1074.18 L431.03 1073.69 L431.96 1073.28 L432.89 1072.87 L433.82 1072.39 L434.75 1073.12 L435.68 1072.53 L437.42 1070.79 L438.91 1073.52 L440.65 1070.79 L441.64 1067.04 L442.63 1063.35 L443.87 1057.15 L444.86 1061.61 L445.86 1060.24 L446.85 1058.39 L447.84 1056.94 L448.83 1054.67 L450.07 1048.46 L451.32 1052.18 L453.05 1049.7 L454.04 1048.45 L455.04 1047.19 L456.03 1045.12 L457.02 1044.08 L458.01 1042.26 L459.01 1040.71 L460 1039.76 L460.99 1038.21 L461.99 1035.86 L462.98 1034.81 L463.91 1033.48 L464.84 1032.64 L465.77 1032.53 L466.7 1031.09 L467.94 1028.17 L469.18 1025.38 L470.92 1028.61 L472.16 1027.37 L472.66 1038.54 L473.4 1022.41 L474.89 1027.87 L476.63 1025.38 L477.62 1027.51 L478.61 1029.35 L480.1 1026.87 L481.09 1020.42 L481.84 1032.33 L483.33 1031.84 L484.44 1033.29 L485.56 1035.19 L486.67 1036.74 L487.79 1038.54 L488.78 1039.61 L489.78 1041.11 L490.77 1042.35 L491.76 1043.94 L492.75 1044.74 L493.68 1046.06 L494.62 1047.44 L495.55 1048.48 L496.48 1049.21 L497.47 1050.61 L498.46 1050.94 L499.7 1054.67 L500.94 1063.35 L501.44 1068.31 L502.43 1064.09 L503.42 1063.91 L504.42 1063.35 L505.41 1064.59 L506.4 1066.58 L507.64 1070.79 L508.88 1065.09 L510.37 1064.09 L511.86 1069.55 L512.94 1070.94 L514.01 1072.05 L515.09 1072.53 L516.02 1073.35 L516.95 1073.35 L517.88 1073.88 L518.81 1074.02 L519.74 1073.83 L520.67 1074.63 L521.6 1074.47 L522.53 1074.52 L523.61 1074.28 L524.68 1074.04 L525.76 1074.52 L526.75 1082.46 L527.74 1072.03 L528.73 1071.8 L529.73 1070.79 L529.89 1072.03 L530.88 1071.33 L531.87 1069.55 L532.87 1062.11 L533.86 1065.83 L534.85 1062.9 L535.84 1060.87 L537.33 1059.13 L538.57 1062.61 L539.81 1060.87 L541.3 1061.61 L542.42 1058.47 L543.54 1054.67 L544.47 1052.83 L545.4 1050.81 L546.33 1049.23 L547.26 1047.72 L548.25 1046.67 L549.24 1045.45 L550.24 1043.2 L551.23 1042.48 L552.22 1041.02 L553.15 1039.28 L554.08 1038.78 L555.01 1037.11 L555.94 1036.05 L556.69 1041.02 L557.68 1034.81 L559.17 1031.09 L559.67 1026.87 L560.91 1031.84 L562.64 1028.61 L563.88 1036.05 L565.12 1029.35 L566.12 1028.78 L567.11 1027.37 L568.35 1022.41 L569.59 1027.37 L570.52 1028.83 L571.45 1029.24 L572.38 1030.71 L573.31 1031.09 L574.24 1031.81 L575.17 1032.49 L576.1 1033.99 L577.03 1034.81 L577.97 1035.23 L578.9 1036.34 L579.83 1037.5 L580.76 1038.54 L581.69 1039.9 L582.62 1040.64 L583.55 1041.75 L584.48 1043.5 L585.47 1045.76 L586.46 1047.22 L587.46 1054.17 L588.95 1041.02 L590.43 1054.67 L591.92 1052.18 L592.92 1047.64 L593.91 1043.5 L594.9 1058.39 L595.89 1059.51 L596.89 1059.63 L598.13 1061.93 L599.37 1063.35 L600.3 1064.46 L601.23 1065.79 L602.16 1067.09 L603.09 1068.31 L604.02 1069.4 L604.95 1070.28 L605.88 1071.17 L606.81 1072.03 L607.74 1072.66 L608.67 1073.51 L609.6 1073.53 L610.53 1074.02 L611.46 1074.07 L612.39 1074.51 L613.33 1074.1 L614.26 1074.52 L615.99 1075.01 L616.49 1081.46 L617.23 1074.02 L618.23 1067.85 L619.22 1062.11 L620.71 1068.31 L622.2 1070.79 L623.44 1081.96 L624.43 1069.55 L625.92 1067.07 L627.16 1054.67 L628.15 1076.5 L629.14 1068.31 L630.38 1064.5 L631.63 1059.63 L632.56 1058.1 L633.49 1056.58 L634.42 1054.44 L635.35 1053.42 L636.28 1051.78 L637.21 1050.41 L638.14 1048.24 L639.07 1047.22 L640 1045.98 L640.93 1044.64 L641.86 1042.64 L642.79 1041.76 L643.72 1040.48 L644.65 1038.87 L645.58 1037.68 L646.51 1036.05 L647.51 1033.78 L648.5 1031.84 L649.74 1034.81 L650.73 1027.37 L651.72 1038.54 L653.46 1033.57 L655.2 1034.81 L656.94 1031.09 L658.18 1027.37 L658.92 1015.46 L659.91 1028.61 L661.4 1029.85 L662.33 1030.58 L663.26 1031.11 L664.19 1030.81 L665.12 1031.84 L666.05 1032.1 L666.99 1033.52 L667.92 1034.58 L668.85 1034.81 L669.78 1035.47 L670.71 1036.63 L671.64 1037.71 L672.57 1038.54 L673.64 1039.41 L674.72 1040.54 L675.79 1041.76 L676.79 1040.27 L678.28 1044.74 L679.76 1050.94 L680.51 1058.39 L681.25 1054.67 L681.75 1057.15" stroke="#062c66" stroke-width="1.05" fill="none" stroke-linejoin="round"/>
<path d="M215 1126.6H377.37" stroke="#f4b54a" stroke-width="1.1"/>
<path d="M377.37 1129.6 L377.37 1107.27 L378.86 1105.53 L380.35 1107.27 L381.84 1104.29 L383.33 1105.53 L384.81 1094.37 L386.05 1101.32 L387.79 1104.29 L389.28 1101.81 L390.77 1108.01 L392.26 1110.5 L392.51 1124.64 L393 1111.24 L394.06 1112.86 L395.11 1114.48 L396.17 1116.03 L397.22 1117.2 L398.21 1118.97 L399.21 1120.04 L400.2 1121.53 L401.19 1121.84 L402.18 1123.65 L403.18 1124.8 L404.17 1126.52 L405.16 1127.38 L406.15 1128.85 L407.15 1129.6 L408.39 1131.16 L409.63 1133.57 L410.37 1129.11 L411.36 1134.57 L412.36 1135.77 L413.35 1137.05 L415.09 1136.55 L416.33 1139.75 L417.57 1143.5 L418.56 1146.03 L419.55 1148.46 L420.3 1153.42 L421.29 1148.96 L422.37 1149.2 L423.44 1148.75 L424.52 1149.45 L425.45 1149.14 L426.38 1149.21 L427.31 1149.91 L428.24 1149.45 L429.48 1149.25 L430.72 1148.46 L431.96 1149.45 L432.89 1148.65 L433.82 1148.91 L434.75 1147.75 L435.68 1147.72 L437.42 1146.48 L438.91 1148.46 L440.65 1145.98 L441.64 1142.64 L442.63 1139.03 L443.87 1132.08 L444.86 1136.55 L445.86 1134.65 L446.85 1133.57 L448.34 1130.35 L449.83 1141.02 L450.82 1131.59 L451.94 1128.31 L453.05 1126.13 L454.04 1124.9 L455.04 1122.53 L456.03 1120.9 L457.02 1120.11 L458.01 1117.94 L459.01 1116.86 L460 1114.73 L460.99 1113.98 L461.99 1112.03 L462.98 1110.5 L463.91 1109.45 L464.84 1107.69 L465.77 1107.26 L466.7 1105.53 L467.94 1102.89 L469.18 1099.83 L470.42 1104.29 L471.66 1105.53 L472.41 1113.72 L473.65 1107.27 L474.64 1106.92 L475.63 1105.53 L476.63 1107.21 L477.62 1108.01 L478.61 1106.93 L479.6 1106.28 L480.84 1109.26 L481.34 1119.18 L482.08 1108.76 L483.08 1108.85 L484.07 1109.26 L485 1110.13 L485.93 1111.35 L486.86 1112.5 L487.79 1114.22 L488.78 1115.24 L489.78 1116.81 L490.77 1117.39 L491.76 1119.38 L492.75 1120.42 L493.68 1121.3 L494.62 1122.32 L495.55 1123.94 L496.48 1124.64 L497.47 1125.61 L498.46 1126.63 L499.7 1130.35 L500.94 1139.03 L501.69 1143.5 L502.68 1139.03 L504.42 1138.54 L505.41 1140.44 L506.4 1142.75 L507.89 1146.97 L508.88 1144 L510.37 1149.45 L511.86 1145.98 L513.1 1146.83 L514.34 1147.72 L515.42 1148.52 L516.49 1148.39 L517.57 1149.45 L518.5 1150.22 L519.43 1149.43 L520.36 1150.47 L521.29 1150.45 L522.28 1150.5 L523.28 1149.25 L524.27 1149.45 L525.76 1145.98 L526.5 1138.54 L527.74 1144 L528.73 1145.8 L529.73 1146.97 L529.89 1142.75 L530.88 1140.75 L531.87 1139.03 L533.36 1140.27 L534.85 1136.55 L535.84 1136.02 L536.84 1135.31 L538.33 1132.83 L539.81 1133.57 L541.3 1129.11 L542.42 1127.33 L543.54 1126.63 L544.47 1124.58 L545.4 1123.17 L546.33 1122.47 L547.26 1120.42 L548.25 1118.85 L549.24 1118.22 L550.24 1117.17 L551.23 1115.95 L552.22 1114.22 L553.15 1112.81 L554.08 1111.58 L555.01 1110.52 L555.94 1109.26 L557.18 1113.72 L558.42 1106.77 L559.67 1101.32 L561.15 1106.77 L562.64 1103.8 L563.88 1111.24 L565.12 1104.79 L566.12 1103.85 L567.11 1102.31 L568.35 1097.34 L569.59 1102.31 L570.52 1102.87 L571.45 1104.57 L572.38 1105.61 L573.31 1106.28 L574.24 1107.54 L575.17 1107.51 L576.1 1109.37 L577.03 1109.75 L577.97 1110.42 L578.9 1111.81 L579.83 1113.22 L580.76 1114.22 L581.69 1115.92 L582.62 1116.52 L583.55 1118.41 L584.48 1119.18 L585.47 1121.09 L586.46 1122.9 L587.46 1128.61 L588.45 1121.83 L589.44 1115.46 L590.93 1126.63 L592.42 1129.6 L593.41 1136.55 L594.16 1148.96 L595.4 1140.27 L596.39 1139.7 L597.38 1139.53 L598.37 1141.16 L599.37 1143.5 L600.3 1143.47 L601.23 1143.98 L602.16 1145.01 L603.09 1145.24 L604.02 1146.4 L604.95 1146.1 L605.88 1146.6 L606.81 1147.72 L607.74 1148.56 L608.67 1148.37 L609.6 1148.54 L610.53 1148.96 L611.46 1148.79 L612.39 1149.31 L613.33 1149.69 L614.26 1149.45 L615.99 1142.75 L617.23 1148.96 L618.72 1152.68 L619.47 1158.88 L620.71 1148.96 L622.2 1145.24 L623.68 1134.07 L625.17 1142.75 L626.66 1144 L627.9 1151.94 L629.14 1141.51 L630.38 1138.36 L631.63 1135.31 L632.56 1133.67 L633.49 1131.72 L634.42 1131.12 L635.35 1129.11 L636.28 1127.23 L637.21 1126.37 L638.14 1125.38 L639.07 1123.65 L640 1122 L640.93 1121.42 L641.86 1120.42 L642.79 1118.68 L643.72 1117.84 L644.65 1117.02 L645.58 1115.27 L646.51 1114.71 L647.75 1115.88 L649 1117.2 L649.99 1114.33 L650.98 1112.23 L651.97 1113.36 L652.97 1113.72 L654.08 1111.01 L655.2 1108.76 L656.94 1106.28 L658.18 1103.05 L658.92 1089.9 L659.91 1103.8 L661.4 1104.79 L662.33 1105.36 L663.26 1106.58 L664.19 1107.04 L665.12 1107.27 L666.05 1108.41 L666.99 1108.46 L667.92 1109.12 L668.85 1109.75 L669.78 1111.12 L670.71 1111.96 L671.64 1112.87 L672.57 1114.22 L673.64 1115.6 L674.72 1116.81 L675.79 1118.68 L677.53 1122.9 L678.77 1125.63 L680.01 1124.64 L680.76 1116.7 L681.25 1124.64 L681.75 1125.38" stroke="#062c66" stroke-width="1.05" fill="none" stroke-linejoin="round"/>
<text x="340" y="1210.9" text-anchor="middle" font-family='"Liberation Sans", Arial, sans-serif' font-weight="bold" font-size="18" fill="#000">(b)</text>
</svg>
</body></html>
